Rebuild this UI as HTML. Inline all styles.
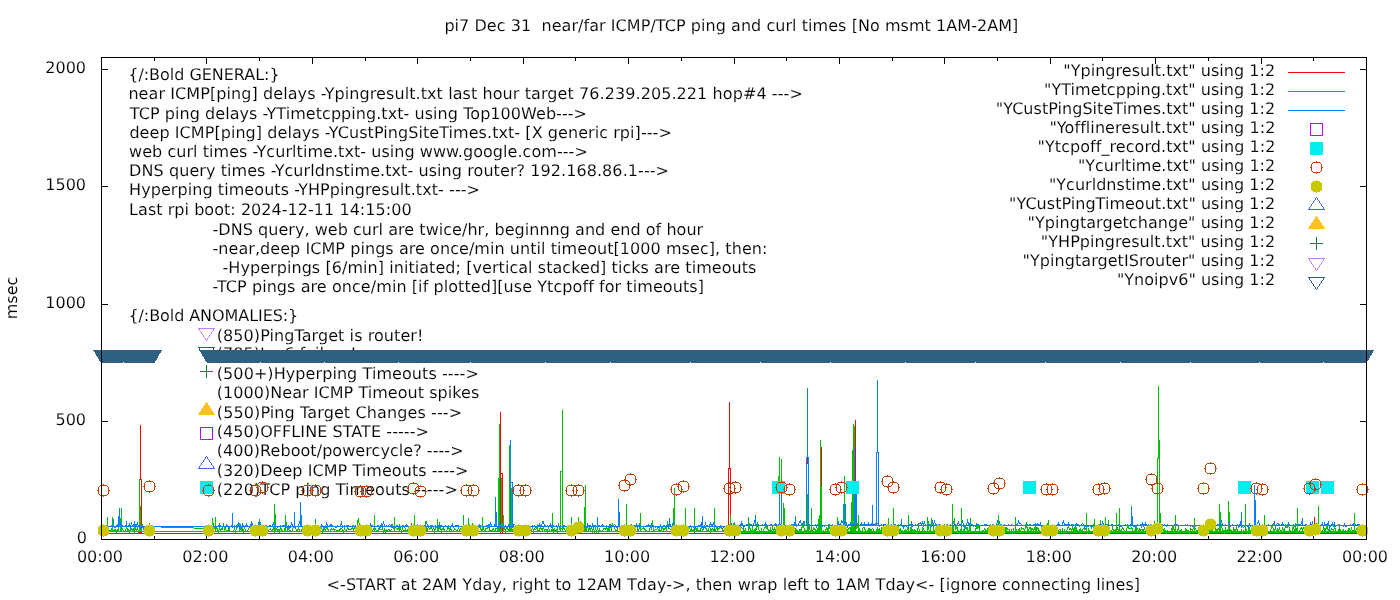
<!DOCTYPE html>
<html lang="en"><head><meta charset="utf-8"><title>pi7 Dec 31 near/far ICMP/TCP ping and curl times</title>
<style>html,body{margin:0;padding:0;background:#fff}body{width:1400px;height:600px;overflow:hidden}svg{display:block}text{font-family:"DejaVu Sans","Liberation Sans",sans-serif;font-size:16px;fill:#000;stroke:#fff;stroke-width:.12px;paint-order:fill stroke;text-rendering:geometricPrecision;white-space:pre}.c{shape-rendering:crispEdges}</style></head><body>
<svg width="1400" height="600" viewBox="0 0 1400 600">
<rect width="1400" height="600" fill="#fff"/>
<g opacity="0.999">
<text x="128.25" y="80" style="letter-spacing:-0.0355px" xml:space="preserve">{/:Bold GENERAL:}</text>
<text x="128.40" y="99.3" style="letter-spacing:0.0837px" xml:space="preserve">near ICMP[ping] delays -Ypingresult.txt last hour target 76.239.205.221 hop#4 ---&gt;</text>
<text x="129.80" y="119" style="letter-spacing:0.0565px" xml:space="preserve">TCP ping delays -YTimetcpping.txt- using Top100Web---&gt;</text>
<text x="129.40" y="138" style="letter-spacing:0.0626px" xml:space="preserve">deep ICMP[ping] delays -YCustPingSiteTimes.txt- [X generic rpi]---&gt;</text>
<text x="129.00" y="157.3" style="letter-spacing:0.0547px" xml:space="preserve">web curl times -Ycurltime.txt- using www.google.com---&gt;</text>
<text x="129.10" y="176.4" style="letter-spacing:0.0757px" xml:space="preserve">DNS query times -Ycurldnstime.txt- using router? 192.168.86.1---&gt;</text>
<text x="129.10" y="195" style="letter-spacing:0.0688px" xml:space="preserve">Hyperping timeouts -YHPpingresult.txt- ---&gt;</text>
<text x="129.10" y="215" style="letter-spacing:0.0420px" xml:space="preserve">Last rpi boot: 2024-12-11 14:15:00</text>
<text x="212.50" y="234.8" style="letter-spacing:0.0392px" xml:space="preserve">-DNS query, web curl are twice/hr, beginnng and end of hour</text>
<text x="212.50" y="253.8" style="letter-spacing:0.0608px" xml:space="preserve">-near,deep ICMP pings are once/min until timeout[1000 msec], then:</text>
<text x="222.50" y="272.8" style="letter-spacing:0.0608px" xml:space="preserve">-Hyperpings [6/min] initiated; [vertical stacked] ticks are timeouts</text>
<text x="212.50" y="291.8" style="letter-spacing:0.0729px" xml:space="preserve">-TCP pings are once/min [if plotted][use Ytcpoff for timeouts]</text>
<text x="128.40" y="321" style="letter-spacing:-0.0701px" xml:space="preserve">{/:Bold ANOMALIES:}</text>
<text x="216.80" y="340.6" style="letter-spacing:0.0733px" xml:space="preserve">(850)PingTarget is router!</text>
<text x="216.80" y="358.9" style="letter-spacing:0.0134px" xml:space="preserve">(785)Ipv6 failure!</text>
<text x="216.80" y="379" style="letter-spacing:0.0770px" xml:space="preserve">(500+)Hyperping Timeouts ----&gt;</text>
<text x="216.80" y="397.5" style="letter-spacing:0.0436px" xml:space="preserve">(1000)Near ICMP Timeout spikes</text>
<text x="216.80" y="417.6" style="letter-spacing:0.1131px" xml:space="preserve">(550)Ping Target Changes ---&gt;</text>
<text x="216.80" y="436.5" style="letter-spacing:0.0689px" xml:space="preserve">(450)OFFLINE STATE -----&gt;</text>
<text x="216.80" y="455.5" style="letter-spacing:0.0575px" xml:space="preserve">(400)Reboot/powercycle? ----&gt;</text>
<text x="216.80" y="475.5" style="letter-spacing:0.0615px" xml:space="preserve">(320)Deep ICMP Timeouts ----&gt;</text>
<text x="216.80" y="494.5" style="letter-spacing:0.0786px" xml:space="preserve">(220)TCP ping Timeouts -----&gt;</text>
<polygon class="c" points="206.5,340.5 198.5,328.5 214.5,328.5" fill="none" stroke="#c080ff" stroke-width="1"/>
<polygon class="c" points="206.5,359.5 198.5,347.5 214.5,347.5" fill="none" stroke="#306080" stroke-width="1"/>
<path class="c" d="M200 371h13v1h-13zM206 365h1v13h-1z" fill="#008040"/>
<polygon class="c" points="206.5,402.5 198.5,414.5 214.5,414.5" fill="#ffc020" stroke="#ffc020" stroke-width="1"/>
<rect class="c" x="200.5" y="427.5" width="12" height="12" fill="none" stroke="#c000ff" stroke-width="1"/>
<polygon class="c" points="206.5,456.5 198.5,468.5 214.5,468.5" fill="none" stroke="#4169e1" stroke-width="1"/>
<rect class="c" x="200" y="481" width="13" height="13" fill="#00eeee"/>
<rect class="c" x="101" y="533" width="1" height="7" fill="#000"/>
<rect class="c" x="101" y="57" width="1" height="7" fill="#000"/>
<rect class="c" x="154" y="536" width="1" height="4" fill="#000"/>
<rect class="c" x="154" y="57" width="1" height="4" fill="#000"/>
<rect class="c" x="206" y="533" width="1" height="7" fill="#000"/>
<rect class="c" x="206" y="57" width="1" height="7" fill="#000"/>
<rect class="c" x="259" y="536" width="1" height="4" fill="#000"/>
<rect class="c" x="259" y="57" width="1" height="4" fill="#000"/>
<rect class="c" x="312" y="533" width="1" height="7" fill="#000"/>
<rect class="c" x="312" y="57" width="1" height="7" fill="#000"/>
<rect class="c" x="365" y="536" width="1" height="4" fill="#000"/>
<rect class="c" x="365" y="57" width="1" height="4" fill="#000"/>
<rect class="c" x="417" y="533" width="1" height="7" fill="#000"/>
<rect class="c" x="417" y="57" width="1" height="7" fill="#000"/>
<rect class="c" x="470" y="536" width="1" height="4" fill="#000"/>
<rect class="c" x="470" y="57" width="1" height="4" fill="#000"/>
<rect class="c" x="523" y="533" width="1" height="7" fill="#000"/>
<rect class="c" x="523" y="57" width="1" height="7" fill="#000"/>
<rect class="c" x="575" y="536" width="1" height="4" fill="#000"/>
<rect class="c" x="575" y="57" width="1" height="4" fill="#000"/>
<rect class="c" x="628" y="533" width="1" height="7" fill="#000"/>
<rect class="c" x="628" y="57" width="1" height="7" fill="#000"/>
<rect class="c" x="681" y="536" width="1" height="4" fill="#000"/>
<rect class="c" x="681" y="57" width="1" height="4" fill="#000"/>
<rect class="c" x="734" y="533" width="1" height="7" fill="#000"/>
<rect class="c" x="734" y="57" width="1" height="7" fill="#000"/>
<rect class="c" x="786" y="536" width="1" height="4" fill="#000"/>
<rect class="c" x="786" y="57" width="1" height="4" fill="#000"/>
<rect class="c" x="839" y="533" width="1" height="7" fill="#000"/>
<rect class="c" x="839" y="57" width="1" height="7" fill="#000"/>
<rect class="c" x="892" y="536" width="1" height="4" fill="#000"/>
<rect class="c" x="892" y="57" width="1" height="4" fill="#000"/>
<rect class="c" x="944" y="533" width="1" height="7" fill="#000"/>
<rect class="c" x="944" y="57" width="1" height="7" fill="#000"/>
<rect class="c" x="997" y="536" width="1" height="4" fill="#000"/>
<rect class="c" x="997" y="57" width="1" height="4" fill="#000"/>
<rect class="c" x="1050" y="533" width="1" height="7" fill="#000"/>
<rect class="c" x="1050" y="57" width="1" height="7" fill="#000"/>
<rect class="c" x="1102" y="536" width="1" height="4" fill="#000"/>
<rect class="c" x="1102" y="57" width="1" height="4" fill="#000"/>
<rect class="c" x="1155" y="533" width="1" height="7" fill="#000"/>
<rect class="c" x="1155" y="57" width="1" height="7" fill="#000"/>
<rect class="c" x="1208" y="536" width="1" height="4" fill="#000"/>
<rect class="c" x="1208" y="57" width="1" height="4" fill="#000"/>
<rect class="c" x="1261" y="533" width="1" height="7" fill="#000"/>
<rect class="c" x="1261" y="57" width="1" height="7" fill="#000"/>
<rect class="c" x="1313" y="536" width="1" height="4" fill="#000"/>
<rect class="c" x="1313" y="57" width="1" height="4" fill="#000"/>
<rect class="c" x="1366" y="533" width="1" height="7" fill="#000"/>
<rect class="c" x="1366" y="57" width="1" height="7" fill="#000"/>
<rect class="c" x="101" y="539" width="7" height="1" fill="#000"/>
<rect class="c" x="1360" y="539" width="7" height="1" fill="#000"/>
<rect class="c" x="101" y="421" width="7" height="1" fill="#000"/>
<rect class="c" x="1360" y="421" width="7" height="1" fill="#000"/>
<rect class="c" x="101" y="304" width="7" height="1" fill="#000"/>
<rect class="c" x="1360" y="304" width="7" height="1" fill="#000"/>
<rect class="c" x="101" y="186" width="7" height="1" fill="#000"/>
<rect class="c" x="1360" y="186" width="7" height="1" fill="#000"/>
<rect class="c" x="101" y="69" width="7" height="1" fill="#000"/>
<rect class="c" x="1360" y="69" width="7" height="1" fill="#000"/>
<path class="c" d="M105.5 533.5 106.5 533.5 107.5 533.5 108.5 533.5 109.5 533.5 110.5 533.5 111.5 533.5 112.5 533.5 113.5 533.5 114.5 533.5 115.5 533.5 116.5 533.5 117.5 533.5 118.5 533.5 119.5 533.5 120.5 533.5 121.5 533.5 122.5 533.5 123.5 533.5 124.5 533.5 125.5 533.5 126.5 533.5 127.5 533.5 128.5 533.5 129.5 533.5 130.5 533.5 131.5 533.5 132.5 533.5 133.5 533.5 134.5 533.5 135.5 533.5 136.5 533.5 137.5 533.5 138.5 533.5 139.5 533.5 140.5 533.5 141.5 533.5 142.5 533.5 143.5 533.5 144.5 533.5 145.5 533.5 146.5 533.5 147.5 533.5 148.5 533.5 149.5 533.5 150.5 533.5 151.5 533.5 152.5 533.5 153.5 533.5 154.5 533.5 M207.5 533.5 208.5 533.5 209.5 533.5 210.5 533.5 211.5 533.5 212.5 533.5 213.5 533.5 214.5 533.5 215.5 533.5 216.5 533.5 217.5 533.5 218.5 533.5 219.5 533.5 220.5 533.5 221.5 533.5 222.5 533.5 223.5 533.5 224.5 533.5 225.5 533.5 226.5 533.5 227.5 533.5 228.5 533.5 229.5 533.5 230.5 533.5 231.5 533.5 232.5 533.5 233.5 533.5 234.5 533.5 235.5 533.5 236.5 533.5 237.5 533.5 238.5 533.5 239.5 533.5 240.5 533.5 241.5 533.5 242.5 533.5 243.5 533.5 244.5 533.5 245.5 533.5 246.5 533.5 247.5 533.5 248.5 533.5 249.5 533.5 250.5 533.5 251.5 533.5 252.5 533.5 253.5 533.5 254.5 533.5 255.5 533.5 256.5 533.5 257.5 533.5 258.5 533.5 259.5 533.5 260.5 533.5 261.5 533.5 262.5 533.5 263.5 533.5 264.5 533.5 265.5 533.5 266.5 533.5 267.5 533.5 268.5 533.5 269.5 533.5 270.5 533.5 271.5 533.5 272.5 533.5 273.5 533.5 274.5 533.5 275.5 533.5 276.5 533.5 277.5 533.5 278.5 533.5 279.5 533.5 280.5 533.5 281.5 533.5 282.5 533.5 283.5 533.5 284.5 533.5 285.5 533.5 286.5 533.5 287.5 533.5 288.5 533.5 289.5 533.5 290.5 533.5 291.5 533.5 292.5 533.5 293.5 533.5 294.5 533.5 295.5 533.5 296.5 533.5 297.5 533.5 298.5 533.5 299.5 533.5 300.5 533.5 301.5 533.5 302.5 533.5 303.5 533.5 304.5 533.5 305.5 533.5 306.5 533.5 307.5 533.5 308.5 533.5 309.5 533.5 310.5 533.5 311.5 533.5 312.5 533.5 313.5 533.5 314.5 533.5 315.5 533.5 316.5 533.5 317.5 533.5 318.5 533.5 319.5 533.5 320.5 533.5 321.5 533.5 322.5 533.5 323.5 533.5 324.5 533.5 325.5 533.5 326.5 533.5 327.5 533.5 328.5 533.5 329.5 533.5 330.5 533.5 331.5 533.5 332.5 533.5 333.5 533.5 334.5 533.5 335.5 533.5 336.5 533.5 337.5 533.5 338.5 533.5 339.5 533.5 340.5 533.5 341.5 533.5 342.5 533.5 343.5 533.5 344.5 533.5 345.5 533.5 346.5 533.5 347.5 533.5 348.5 533.5 349.5 533.5 350.5 533.5 351.5 533.5 352.5 533.5 353.5 533.5 354.5 533.5 355.5 533.5 356.5 533.5 357.5 533.5 358.5 533.5 359.5 533.5 360.5 533.5 361.5 533.5 362.5 533.5 363.5 533.5 364.5 533.5 365.5 533.5 366.5 533.5 367.5 533.5 368.5 533.5 369.5 533.5 370.5 533.5 371.5 533.5 372.5 533.5 373.5 533.5 374.5 533.5 375.5 533.5 376.5 533.5 377.5 533.5 378.5 533.5 379.5 533.5 380.5 533.5 381.5 533.5 382.5 533.5 383.5 533.5 384.5 533.5 385.5 533.5 386.5 533.5 387.5 533.5 388.5 533.5 389.5 533.5 390.5 533.5 391.5 533.5 392.5 533.5 393.5 533.5 394.5 533.5 395.5 533.5 396.5 533.5 397.5 533.5 398.5 533.5 399.5 533.5 400.5 533.5 401.5 533.5 402.5 533.5 403.5 533.5 404.5 533.5 405.5 533.5 406.5 533.5 407.5 533.5 408.5 533.5 409.5 533.5 410.5 533.5 411.5 533.5 412.5 533.5 413.5 533.5 414.5 533.5 415.5 533.5 416.5 533.5 417.5 533.5 418.5 533.5 419.5 533.5 420.5 533.5 421.5 533.5 422.5 533.5 423.5 533.5 424.5 533.5 425.5 533.5 426.5 533.5 427.5 533.5 428.5 533.5 429.5 533.5 430.5 533.5 431.5 533.5 432.5 533.5 433.5 533.5 434.5 533.5 435.5 533.5 436.5 533.5 437.5 533.5 438.5 533.5 439.5 533.5 440.5 533.5 441.5 533.5 442.5 533.5 443.5 533.5 444.5 533.5 445.5 533.5 446.5 533.5 447.5 533.5 448.5 533.5 449.5 533.5 450.5 533.5 451.5 533.5 452.5 533.5 453.5 533.5 454.5 533.5 455.5 533.5 456.5 533.5 457.5 533.5 458.5 533.5 459.5 533.5 460.5 533.5 461.5 533.5 462.5 533.5 463.5 533.5 464.5 533.5 465.5 533.5 466.5 533.5 467.5 533.5 468.5 533.5 469.5 533.5 470.5 533.5 471.5 533.5 472.5 533.5 473.5 533.5 474.5 533.5 475.5 533.5 476.5 533.5 477.5 533.5 478.5 533.5 479.5 533.5 480.5 533.5 481.5 533.5 482.5 533.5 483.5 533.5 484.5 533.5 485.5 533.5 486.5 533.5 487.5 533.5 488.5 533.5 489.5 533.5 490.5 533.5 491.5 533.5 492.5 533.5 493.5 533.5 494.5 533.5 495.5 533.5 496.5 533.5 497.5 533.5 498.5 533.5 499.5 533.5 500.5 533.5 501.5 533.5 502.5 533.5 503.5 533.5 504.5 533.5 505.5 533.5 506.5 533.5 507.5 533.5 508.5 533.5 509.5 533.5 510.5 533.5 511.5 533.5 512.5 533.5 513.5 533.5 514.5 533.5 515.5 533.5 516.5 533.5 517.5 533.5 518.5 533.5 519.5 533.5 520.5 533.5 521.5 533.5 522.5 533.5 523.5 533.5 524.5 533.5 525.5 533.5 526.5 533.5 527.5 533.5 528.5 533.5 529.5 533.5 530.5 533.5 531.5 533.5 532.5 533.5 533.5 533.5 534.5 533.5 535.5 533.5 536.5 533.5 537.5 533.5 538.5 533.5 539.5 533.5 540.5 533.5 541.5 533.5 542.5 533.5 543.5 533.5 544.5 533.5 545.5 533.5 546.5 533.5 547.5 533.5 548.5 533.5 549.5 533.5 550.5 533.5 551.5 533.5 552.5 533.5 553.5 533.5 554.5 533.5 555.5 533.5 556.5 533.5 557.5 533.5 558.5 533.5 559.5 533.5 560.5 533.5 561.5 533.5 562.5 533.5 563.5 533.5 564.5 533.5 565.5 533.5 566.5 533.5 567.5 533.5 568.5 533.5 569.5 533.5 570.5 533.5 571.5 533.5 572.5 533.5 573.5 533.5 574.5 533.5 575.5 533.5 576.5 533.5 577.5 533.5 578.5 533.5 579.5 533.5 580.5 533.5 581.5 533.5 582.5 533.5 583.5 533.5 584.5 533.5 585.5 533.5 586.5 533.5 587.5 533.5 588.5 533.5 589.5 533.5 590.5 533.5 591.5 533.5 592.5 533.5 593.5 533.5 594.5 533.5 595.5 533.5 596.5 533.5 597.5 533.5 598.5 533.5 599.5 533.5 600.5 533.5 601.5 533.5 602.5 533.5 603.5 533.5 604.5 533.5 605.5 533.5 606.5 533.5 607.5 533.5 608.5 533.5 609.5 533.5 610.5 533.5 611.5 533.5 612.5 533.5 613.5 533.5 614.5 533.5 615.5 533.5 616.5 533.5 617.5 533.5 618.5 533.5 619.5 533.5 620.5 533.5 621.5 533.5 622.5 533.5 623.5 533.5 624.5 533.5 625.5 533.5 626.5 533.5 627.5 533.5 628.5 533.5 629.5 533.5 630.5 533.5 631.5 533.5 632.5 533.5 633.5 533.5 634.5 533.5 635.5 533.5 636.5 533.5 637.5 533.5 638.5 533.5 639.5 533.5 640.5 533.5 641.5 533.5 642.5 533.5 643.5 533.5 644.5 533.5 645.5 533.5 646.5 533.5 647.5 533.5 648.5 533.5 649.5 533.5 650.5 533.5 651.5 533.5 652.5 533.5 653.5 533.5 654.5 533.5 655.5 533.5 656.5 533.5 657.5 533.5 658.5 533.5 659.5 533.5 660.5 533.5 661.5 533.5 662.5 533.5 663.5 533.5 664.5 533.5 665.5 533.5 666.5 533.5 667.5 533.5 668.5 533.5 669.5 533.5 670.5 533.5 671.5 533.5 672.5 533.5 673.5 533.5 674.5 533.5 675.5 533.5 676.5 533.5 677.5 533.5 678.5 533.5 679.5 533.5 680.5 533.5 681.5 533.5 682.5 533.5 683.5 533.5 684.5 533.5 685.5 533.5 686.5 533.5 687.5 533.5 688.5 533.5 689.5 533.5 690.5 533.5 691.5 533.5 692.5 533.5 693.5 533.5 694.5 533.5 695.5 533.5 696.5 533.5 697.5 533.5 698.5 533.5 699.5 533.5 700.5 533.5 701.5 533.5 702.5 533.5 703.5 533.5 704.5 533.5 705.5 533.5 706.5 533.5 707.5 533.5 708.5 533.5 709.5 533.5 710.5 533.5 711.5 533.5 712.5 533.5 713.5 533.5 714.5 533.5 715.5 533.5 716.5 533.5 717.5 533.5 718.5 533.5 719.5 533.5 720.5 533.5 721.5 533.5 722.5 533.5 723.5 533.5 724.5 533.5 725.5 533.5 726.5 533.5 727.5 533.5 728.5 533.5 729.5 533.5 730.5 533.5 731.5 533.5 732.5 533.5 733.5 533.5 734.5 533.5 735.5 533.5 736.5 533.5 737.5 533.5 738.5 533.5 739.5 533.5 740.5 533.5 741.5 533.5 742.5 533.5 743.5 533.5 744.5 533.5 745.5 533.5 746.5 533.5 747.5 533.5 748.5 533.5 749.5 533.5 750.5 533.5 751.5 533.5 752.5 533.5 753.5 533.5 754.5 533.5 755.5 533.5 756.5 533.5 757.5 533.5 758.5 533.5 759.5 533.5 760.5 533.5 761.5 533.5 762.5 533.5 763.5 533.5 764.5 533.5 765.5 533.5 766.5 533.5 767.5 533.5 768.5 533.5 769.5 533.5 770.5 533.5 771.5 533.5 772.5 533.5 773.5 533.5 774.5 533.5 775.5 533.5 776.5 533.5 777.5 533.5 778.5 533.5 779.5 533.5 780.5 533.5 781.5 533.5 782.5 533.5 783.5 533.5 784.5 533.5 785.5 533.5 786.5 533.5 787.5 533.5 788.5 533.5 789.5 533.5 790.5 533.5 791.5 533.5 792.5 533.5 793.5 533.5 794.5 533.5 795.5 533.5 796.5 533.5 797.5 533.5 798.5 533.5 799.5 533.5 800.5 533.5 801.5 533.5 802.5 533.5 803.5 533.5 804.5 533.5 805.5 533.5 806.5 533.5 807.5 533.5 808.5 533.5 809.5 533.5 810.5 533.5 811.5 533.5 812.5 533.5 813.5 533.5 814.5 533.5 815.5 533.5 816.5 533.5 817.5 533.5 818.5 533.5 819.5 533.5 820.5 533.5 821.5 533.5 822.5 533.5 823.5 533.5 824.5 533.5 825.5 533.5 826.5 533.5 827.5 533.5 828.5 533.5 829.5 533.5 830.5 533.5 831.5 533.5 832.5 533.5 833.5 533.5 834.5 533.5 835.5 533.5 836.5 533.5 837.5 533.5 838.5 533.5 839.5 533.5 840.5 533.5 841.5 533.5 842.5 533.5 843.5 533.5 844.5 533.5 845.5 533.5 846.5 533.5 847.5 533.5 848.5 533.5 849.5 533.5 850.5 533.5 851.5 533.5 852.5 533.5 853.5 533.5 854.5 533.5 855.5 533.5 856.5 533.5 857.5 533.5 858.5 533.5 859.5 533.5 860.5 533.5 861.5 533.5 862.5 533.5 863.5 533.5 864.5 533.5 865.5 533.5 866.5 533.5 867.5 533.5 868.5 533.5 869.5 533.5 870.5 533.5 871.5 533.5 872.5 533.5 873.5 533.5 874.5 533.5 875.5 533.5 876.5 533.5 877.5 533.5 878.5 533.5 879.5 533.5 880.5 533.5 881.5 533.5 882.5 533.5 883.5 533.5 884.5 533.5 885.5 533.5 886.5 533.5 887.5 533.5 888.5 533.5 889.5 533.5 890.5 533.5 891.5 533.5 892.5 533.5 893.5 533.5 894.5 533.5 895.5 533.5 896.5 533.5 897.5 533.5 898.5 533.5 899.5 533.5 900.5 533.5 901.5 533.5 902.5 533.5 903.5 533.5 904.5 533.5 905.5 533.5 906.5 533.5 907.5 533.5 908.5 533.5 909.5 533.5 910.5 533.5 911.5 533.5 912.5 533.5 913.5 533.5 914.5 533.5 915.5 533.5 916.5 533.5 917.5 533.5 918.5 533.5 919.5 533.5 920.5 533.5 921.5 533.5 922.5 533.5 923.5 533.5 924.5 533.5 925.5 533.5 926.5 533.5 927.5 533.5 928.5 533.5 929.5 533.5 930.5 533.5 931.5 533.5 932.5 533.5 933.5 533.5 934.5 533.5 935.5 533.5 936.5 533.5 937.5 533.5 938.5 533.5 939.5 533.5 940.5 533.5 941.5 533.5 942.5 533.5 943.5 533.5 944.5 533.5 945.5 533.5 946.5 533.5 947.5 533.5 948.5 533.5 949.5 533.5 950.5 533.5 951.5 533.5 952.5 533.5 953.5 533.5 954.5 533.5 955.5 533.5 956.5 533.5 957.5 533.5 958.5 533.5 959.5 533.5 960.5 533.5 961.5 533.5 962.5 533.5 963.5 533.5 964.5 533.5 965.5 533.5 966.5 533.5 967.5 533.5 968.5 533.5 969.5 533.5 970.5 533.5 971.5 533.5 972.5 533.5 973.5 533.5 974.5 533.5 975.5 533.5 976.5 533.5 977.5 533.5 978.5 533.5 979.5 533.5 980.5 533.5 981.5 533.5 982.5 533.5 983.5 533.5 984.5 533.5 985.5 533.5 986.5 533.5 987.5 533.5 988.5 533.5 989.5 533.5 990.5 533.5 991.5 533.5 992.5 533.5 993.5 533.5 994.5 533.5 995.5 533.5 996.5 533.5 997.5 533.5 998.5 533.5 999.5 533.5 1000.5 533.5 1001.5 533.5 1002.5 533.5 1003.5 533.5 1004.5 533.5 1005.5 533.5 1006.5 533.5 1007.5 533.5 1008.5 533.5 1009.5 533.5 1010.5 533.5 1011.5 533.5 1012.5 533.5 1013.5 533.5 1014.5 533.5 1015.5 533.5 1016.5 533.5 1017.5 533.5 1018.5 533.5 1019.5 533.5 1020.5 533.5 1021.5 533.5 1022.5 533.5 1023.5 533.5 1024.5 533.5 1025.5 533.5 1026.5 533.5 1027.5 533.5 1028.5 533.5 1029.5 533.5 1030.5 533.5 1031.5 533.5 1032.5 533.5 1033.5 533.5 1034.5 533.5 1035.5 533.5 1036.5 533.5 1037.5 533.5 1038.5 533.5 1039.5 533.5 1040.5 533.5 1041.5 533.5 1042.5 533.5 1043.5 533.5 1044.5 533.5 1045.5 533.5 1046.5 533.5 1047.5 533.5 1048.5 533.5 1049.5 533.5 1050.5 533.5 1051.5 533.5 1052.5 533.5 1053.5 533.5 1054.5 533.5 1055.5 533.5 1056.5 533.5 1057.5 533.5 1058.5 533.5 1059.5 533.5 1060.5 533.5 1061.5 533.5 1062.5 533.5 1063.5 533.5 1064.5 533.5 1065.5 533.5 1066.5 533.5 1067.5 533.5 1068.5 533.5 1069.5 533.5 1070.5 533.5 1071.5 533.5 1072.5 533.5 1073.5 533.5 1074.5 533.5 1075.5 533.5 1076.5 533.5 1077.5 533.5 1078.5 533.5 1079.5 533.5 1080.5 533.5 1081.5 533.5 1082.5 533.5 1083.5 533.5 1084.5 533.5 1085.5 533.5 1086.5 533.5 1087.5 533.5 1088.5 533.5 1089.5 533.5 1090.5 533.5 1091.5 533.5 1092.5 533.5 1093.5 533.5 1094.5 533.5 1095.5 533.5 1096.5 533.5 1097.5 533.5 1098.5 533.5 1099.5 533.5 1100.5 533.5 1101.5 533.5 1102.5 533.5 1103.5 533.5 1104.5 533.5 1105.5 533.5 1106.5 533.5 1107.5 533.5 1108.5 533.5 1109.5 533.5 1110.5 533.5 1111.5 533.5 1112.5 533.5 1113.5 533.5 1114.5 533.5 1115.5 533.5 1116.5 533.5 1117.5 533.5 1118.5 533.5 1119.5 533.5 1120.5 533.5 1121.5 533.5 1122.5 533.5 1123.5 533.5 1124.5 533.5 1125.5 533.5 1126.5 533.5 1127.5 533.5 1128.5 533.5 1129.5 533.5 1130.5 533.5 1131.5 533.5 1132.5 533.5 1133.5 533.5 1134.5 533.5 1135.5 533.5 1136.5 533.5 1137.5 533.5 1138.5 533.5 1139.5 533.5 1140.5 533.5 1141.5 533.5 1142.5 533.5 1143.5 533.5 1144.5 533.5 1145.5 533.5 1146.5 533.5 1147.5 533.5 1148.5 533.5 1149.5 533.5 1150.5 533.5 1151.5 533.5 1152.5 533.5 1153.5 533.5 1154.5 533.5 1155.5 533.5 1156.5 533.5 1157.5 533.5 1158.5 533.5 1159.5 533.5 1160.5 533.5 1161.5 533.5 1162.5 533.5 1163.5 533.5 1164.5 533.5 1165.5 533.5 1166.5 533.5 1167.5 533.5 1168.5 533.5 1169.5 533.5 1170.5 533.5 1171.5 533.5 1172.5 533.5 1173.5 533.5 1174.5 533.5 1175.5 533.5 1176.5 533.5 1177.5 533.5 1178.5 533.5 1179.5 533.5 1180.5 533.5 1181.5 533.5 1182.5 533.5 1183.5 533.5 1184.5 533.5 1185.5 533.5 1186.5 533.5 1187.5 533.5 1188.5 533.5 1189.5 533.5 1190.5 533.5 1191.5 533.5 1192.5 533.5 1193.5 533.5 1194.5 533.5 1195.5 533.5 1196.5 533.5 1197.5 533.5 1198.5 533.5 1199.5 533.5 1200.5 533.5 1201.5 533.5 1202.5 533.5 1203.5 533.5 1204.5 533.5 1205.5 533.5 1206.5 533.5 1207.5 533.5 1208.5 533.5 1209.5 533.5 1210.5 533.5 1211.5 533.5 1212.5 533.5 1213.5 533.5 1214.5 533.5 1215.5 533.5 1216.5 533.5 1217.5 533.5 1218.5 533.5 1219.5 533.5 1220.5 533.5 1221.5 533.5 1222.5 533.5 1223.5 533.5 1224.5 533.5 1225.5 533.5 1226.5 533.5 1227.5 533.5 1228.5 533.5 1229.5 533.5 1230.5 533.5 1231.5 533.5 1232.5 533.5 1233.5 533.5 1234.5 533.5 1235.5 533.5 1236.5 533.5 1237.5 533.5 1238.5 533.5 1239.5 533.5 1240.5 533.5 1241.5 533.5 1242.5 533.5 1243.5 533.5 1244.5 533.5 1245.5 533.5 1246.5 533.5 1247.5 533.5 1248.5 533.5 1249.5 533.5 1250.5 533.5 1251.5 533.5 1252.5 533.5 1253.5 533.5 1254.5 533.5 1255.5 533.5 1256.5 533.5 1257.5 533.5 1258.5 533.5 1259.5 533.5 1260.5 533.5 1261.5 533.5 1262.5 533.5 1263.5 533.5 1264.5 533.5 1265.5 533.5 1266.5 533.5 1267.5 533.5 1268.5 533.5 1269.5 533.5 1270.5 533.5 1271.5 533.5 1272.5 533.5 1273.5 533.5 1274.5 533.5 1275.5 533.5 1276.5 533.5 1277.5 533.5 1278.5 533.5 1279.5 533.5 1280.5 533.5 1281.5 533.5 1282.5 533.5 1283.5 533.5 1284.5 533.5 1285.5 533.5 1286.5 533.5 1287.5 533.5 1288.5 533.5 1289.5 533.5 1290.5 533.5 1291.5 533.5 1292.5 533.5 1293.5 533.5 1294.5 533.5 1295.5 533.5 1296.5 533.5 1297.5 533.5 1298.5 533.5 1299.5 533.5 1300.5 533.5 1301.5 533.5 1302.5 533.5 1303.5 533.5 1304.5 533.5 1305.5 533.5 1306.5 533.5 1307.5 533.5 1308.5 533.5 1309.5 533.5 1310.5 533.5 1311.5 533.5 1312.5 533.5 1313.5 533.5 1314.5 533.5 1315.5 533.5 1316.5 533.5 1317.5 533.5 1318.5 533.5 1319.5 533.5 1320.5 533.5 1321.5 533.5 1322.5 533.5 1323.5 533.5 1324.5 533.5 1325.5 533.5 1326.5 533.5 1327.5 533.5 1328.5 533.5 1329.5 533.5 1330.5 533.5 1331.5 533.5 1332.5 533.5 1333.5 533.5 1334.5 533.5 1335.5 533.5 1336.5 533.5 1337.5 533.5 1338.5 533.5 1339.5 533.5 1340.5 533.5 1341.5 533.5 1342.5 533.5 1343.5 533.5 1344.5 533.5 1345.5 533.5 1346.5 533.5 1347.5 533.5 1348.5 533.5 1349.5 533.5 1350.5 533.5 1351.5 533.5 1352.5 533.5 1353.5 533.5 1354.5 533.5 1355.5 533.5 1356.5 533.5 1357.5 533.5 1358.5 533.5 1359.5 533.5 1360.5 533.5 1361.5 533.5 1362.5 533.5 L1362.5 533.5 L700.5 533.5 L101.5 533.5" fill="none" stroke="#ff0000" stroke-width="1" stroke-linejoin="miter"/>
<path class="c" d="M140 425h1v55h-1zM141 479h1v55h-1zM140 506h1v28h-1zM139 506h1v28h-1zM500 412h1v122h-1zM502 473h1v61h-1zM501 473h1v1h-1zM729 402h1v67h-1zM728 468h1v66h-1zM730 468h1v66h-1zM821 447h1v87h-1zM855 420h1v114h-1zM807 457h1v7h-1zM853 494h1v40h-1zM1314 517h1v17h-1z" fill="#ff0000"/>
<path class="c" d="M105.5 530.5 106.5 531.5 107.5 527.5 108.5 530.5 109.5 530.5 110.5 531.5 111.5 529.5 112.5 531.5 113.5 531.5 114.5 529.5 115.5 529.5 116.5 531.5 117.5 529.5 118.5 530.5 119.5 523.5 120.5 529.5 121.5 527.5 122.5 528.5 123.5 531.5 124.5 531.5 125.5 531.5 126.5 526.5 127.5 530.5 128.5 529.5 129.5 531.5 130.5 529.5 131.5 528.5 132.5 530.5 133.5 531.5 133.5 528.5 134.5 531.5 135.5 528.5 136.5 530.5 137.5 528.5 138.5 531.5 139.5 528.5 140.5 531.5 141.5 530.5 142.5 525.5 143.5 528.5 144.5 527.5 145.5 527.5 146.5 531.5 147.5 526.5 148.5 531.5 149.5 527.5 150.5 529.5 150.5 531.5 151.5 528.5 151.5 529.5 152.5 529.5 153.5 529.5 154.5 529.5 154.5 531.5 M207.5 531.5 208.5 529.5 208.5 531.5 209.5 530.5 210.5 531.5 210.5 527.5 211.5 531.5 212.5 518.5 213.5 527.5 214.5 527.5 215.5 530.5 215.5 528.5 216.5 527.5 217.5 529.5 218.5 531.5 219.5 528.5 220.5 530.5 221.5 528.5 222.5 529.5 223.5 523.5 224.5 530.5 225.5 528.5 226.5 531.5 227.5 531.5 228.5 529.5 229.5 526.5 229.5 530.5 230.5 531.5 231.5 531.5 232.5 531.5 233.5 531.5 234.5 528.5 235.5 531.5 236.5 528.5 237.5 526.5 238.5 526.5 239.5 523.5 239.5 531.5 240.5 527.5 241.5 531.5 242.5 527.5 242.5 529.5 243.5 531.5 244.5 526.5 245.5 531.5 245.5 530.5 246.5 531.5 247.5 531.5 248.5 528.5 249.5 527.5 250.5 526.5 251.5 525.5 252.5 528.5 252.5 530.5 253.5 531.5 254.5 529.5 255.5 531.5 256.5 528.5 257.5 531.5 258.5 531.5 259.5 526.5 260.5 530.5 261.5 530.5 262.5 529.5 263.5 528.5 264.5 528.5 265.5 527.5 266.5 531.5 267.5 529.5 268.5 530.5 269.5 529.5 270.5 528.5 270.5 528.5 271.5 531.5 272.5 530.5 273.5 528.5 274.5 531.5 275.5 527.5 276.5 528.5 277.5 530.5 278.5 529.5 279.5 531.5 280.5 527.5 281.5 529.5 282.5 531.5 283.5 531.5 284.5 530.5 285.5 525.5 286.5 523.5 287.5 531.5 288.5 528.5 289.5 531.5 290.5 530.5 291.5 531.5 292.5 530.5 293.5 526.5 294.5 527.5 295.5 526.5 296.5 531.5 297.5 530.5 298.5 527.5 299.5 531.5 300.5 531.5 301.5 531.5 302.5 527.5 303.5 531.5 304.5 529.5 305.5 531.5 306.5 531.5 307.5 529.5 308.5 527.5 308.5 530.5 309.5 530.5 310.5 531.5 310.5 531.5 311.5 531.5 312.5 531.5 313.5 529.5 314.5 530.5 315.5 519.5 316.5 531.5 317.5 526.5 318.5 531.5 319.5 531.5 320.5 529.5 321.5 525.5 322.5 531.5 323.5 529.5 324.5 528.5 325.5 530.5 326.5 527.5 327.5 526.5 327.5 529.5 328.5 529.5 328.5 530.5 329.5 531.5 330.5 530.5 331.5 528.5 332.5 529.5 333.5 528.5 334.5 530.5 335.5 529.5 336.5 530.5 337.5 530.5 338.5 530.5 339.5 530.5 340.5 528.5 341.5 528.5 342.5 529.5 343.5 531.5 344.5 528.5 345.5 531.5 346.5 531.5 347.5 526.5 348.5 529.5 349.5 529.5 350.5 529.5 351.5 529.5 352.5 526.5 353.5 530.5 354.5 527.5 355.5 530.5 356.5 529.5 357.5 522.5 358.5 518.5 359.5 526.5 360.5 529.5 361.5 525.5 362.5 531.5 363.5 528.5 364.5 529.5 364.5 527.5 365.5 528.5 366.5 531.5 367.5 526.5 367.5 531.5 368.5 527.5 369.5 531.5 370.5 529.5 371.5 531.5 372.5 530.5 373.5 529.5 374.5 527.5 375.5 529.5 376.5 530.5 377.5 531.5 378.5 529.5 379.5 526.5 379.5 529.5 380.5 529.5 380.5 529.5 381.5 529.5 382.5 528.5 383.5 531.5 384.5 529.5 385.5 531.5 386.5 529.5 387.5 530.5 388.5 529.5 389.5 529.5 389.5 531.5 390.5 531.5 391.5 528.5 392.5 524.5 393.5 528.5 394.5 528.5 395.5 527.5 396.5 528.5 397.5 529.5 398.5 527.5 399.5 531.5 399.5 524.5 400.5 528.5 401.5 531.5 402.5 528.5 403.5 531.5 404.5 530.5 404.5 531.5 405.5 529.5 406.5 531.5 407.5 531.5 408.5 527.5 409.5 531.5 410.5 529.5 411.5 531.5 412.5 529.5 413.5 527.5 414.5 527.5 414.5 530.5 415.5 531.5 416.5 528.5 417.5 530.5 418.5 530.5 419.5 531.5 419.5 530.5 420.5 528.5 421.5 530.5 422.5 528.5 423.5 527.5 423.5 527.5 424.5 528.5 425.5 521.5 426.5 530.5 426.5 531.5 427.5 529.5 428.5 526.5 429.5 529.5 430.5 528.5 431.5 526.5 432.5 531.5 432.5 531.5 433.5 526.5 434.5 531.5 435.5 528.5 436.5 526.5 437.5 527.5 438.5 529.5 439.5 522.5 439.5 528.5 440.5 527.5 441.5 531.5 442.5 528.5 443.5 527.5 444.5 531.5 445.5 531.5 446.5 531.5 447.5 528.5 448.5 526.5 449.5 530.5 449.5 530.5 450.5 528.5 451.5 530.5 452.5 531.5 453.5 531.5 454.5 528.5 455.5 529.5 456.5 530.5 456.5 530.5 457.5 531.5 458.5 527.5 459.5 530.5 460.5 528.5 461.5 529.5 461.5 526.5 462.5 527.5 463.5 531.5 464.5 529.5 465.5 531.5 466.5 527.5 467.5 531.5 468.5 518.5 469.5 528.5 470.5 530.5 471.5 530.5 472.5 523.5 473.5 526.5 474.5 530.5 475.5 531.5 476.5 531.5 476.5 531.5 477.5 528.5 478.5 528.5 479.5 527.5 480.5 527.5 481.5 531.5 482.5 531.5 483.5 528.5 484.5 531.5 485.5 530.5 485.5 528.5 486.5 528.5 487.5 528.5 488.5 525.5 489.5 530.5 490.5 530.5 490.5 531.5 491.5 531.5 492.5 529.5 493.5 528.5 494.5 531.5 495.5 531.5 495.5 528.5 496.5 528.5 497.5 529.5 498.5 531.5 499.5 531.5 500.5 531.5 501.5 526.5 502.5 523.5 503.5 531.5 504.5 528.5 505.5 531.5 506.5 527.5 507.5 527.5 508.5 531.5 509.5 527.5 510.5 531.5 511.5 531.5 512.5 529.5 513.5 529.5 514.5 531.5 515.5 531.5 516.5 529.5 517.5 531.5 518.5 527.5 519.5 530.5 519.5 531.5 520.5 531.5 521.5 531.5 522.5 526.5 523.5 531.5 524.5 530.5 525.5 524.5 525.5 531.5 526.5 530.5 526.5 531.5 527.5 531.5 527.5 529.5 528.5 529.5 529.5 529.5 529.5 531.5 530.5 531.5 531.5 531.5 532.5 526.5 533.5 531.5 534.5 528.5 535.5 529.5 536.5 528.5 537.5 524.5 537.5 530.5 538.5 531.5 539.5 529.5 540.5 527.5 541.5 529.5 542.5 530.5 543.5 526.5 544.5 531.5 544.5 529.5 545.5 529.5 546.5 529.5 547.5 531.5 548.5 526.5 549.5 531.5 550.5 531.5 551.5 531.5 552.5 527.5 553.5 531.5 554.5 528.5 554.5 530.5 555.5 530.5 556.5 529.5 557.5 531.5 558.5 523.5 559.5 528.5 559.5 529.5 560.5 530.5 560.5 527.5 561.5 528.5 561.5 528.5 562.5 529.5 563.5 527.5 564.5 528.5 565.5 531.5 566.5 530.5 567.5 530.5 568.5 530.5 569.5 526.5 570.5 527.5 571.5 528.5 572.5 529.5 573.5 529.5 574.5 531.5 575.5 529.5 576.5 528.5 577.5 530.5 578.5 529.5 578.5 517.5 579.5 526.5 580.5 521.5 581.5 527.5 582.5 527.5 583.5 531.5 584.5 531.5 584.5 528.5 585.5 527.5 586.5 531.5 586.5 531.5 587.5 523.5 588.5 531.5 589.5 527.5 590.5 530.5 591.5 526.5 592.5 531.5 593.5 528.5 594.5 531.5 595.5 528.5 596.5 531.5 597.5 528.5 598.5 531.5 599.5 529.5 600.5 531.5 600.5 530.5 601.5 531.5 602.5 530.5 603.5 529.5 603.5 528.5 604.5 528.5 605.5 529.5 606.5 526.5 607.5 530.5 608.5 531.5 608.5 528.5 609.5 530.5 609.5 524.5 610.5 524.5 611.5 530.5 612.5 524.5 613.5 526.5 614.5 526.5 615.5 531.5 616.5 530.5 617.5 529.5 617.5 531.5 618.5 522.5 619.5 530.5 620.5 529.5 621.5 528.5 622.5 531.5 622.5 531.5 623.5 531.5 624.5 531.5 625.5 530.5 626.5 526.5 627.5 531.5 628.5 530.5 629.5 531.5 630.5 528.5 631.5 529.5 631.5 530.5 632.5 530.5 633.5 530.5 634.5 530.5 635.5 531.5 635.5 527.5 636.5 523.5 637.5 530.5 638.5 531.5 639.5 527.5 640.5 529.5 641.5 529.5 642.5 528.5 643.5 527.5 644.5 529.5 645.5 529.5 646.5 531.5 647.5 531.5 648.5 531.5 649.5 531.5 650.5 525.5 651.5 529.5 652.5 520.5 653.5 530.5 654.5 530.5 655.5 529.5 656.5 529.5 657.5 528.5 658.5 529.5 659.5 531.5 660.5 531.5 661.5 529.5 662.5 527.5 663.5 529.5 663.5 530.5 664.5 529.5 665.5 527.5 666.5 529.5 667.5 521.5 668.5 527.5 669.5 528.5 670.5 529.5 671.5 528.5 671.5 530.5 672.5 531.5 672.5 526.5 673.5 529.5 674.5 525.5 674.5 527.5 675.5 531.5 676.5 531.5 677.5 527.5 678.5 527.5 679.5 529.5 679.5 529.5 680.5 530.5 681.5 529.5 682.5 527.5 683.5 527.5 684.5 527.5 685.5 526.5 685.5 526.5 686.5 531.5 686.5 527.5 687.5 531.5 687.5 531.5 688.5 530.5 689.5 526.5 690.5 531.5 691.5 527.5 691.5 530.5 692.5 530.5 693.5 529.5 694.5 531.5 695.5 528.5 696.5 530.5 697.5 526.5 697.5 529.5 698.5 531.5 699.5 531.5 700.5 529.5 701.5 526.5 702.5 531.5 703.5 526.5 704.5 526.5 705.5 527.5 706.5 529.5 707.5 531.5 708.5 531.5 709.5 524.5 710.5 531.5 711.5 529.5 712.5 528.5 713.5 530.5 713.5 531.5 714.5 531.5 715.5 531.5 716.5 526.5 717.5 527.5 717.5 531.5 718.5 528.5 719.5 528.5 720.5 526.5 721.5 527.5 722.5 529.5 723.5 531.5 724.5 531.5 725.5 531.5 726.5 531.5 727.5 531.5 728.5 531.5 729.5 530.5 730.5 527.5 731.5 531.5 732.5 528.5 733.5 531.5 733.5 523.5 734.5 529.5 735.5 529.5 736.5 527.5 737.5 527.5 738.5 531.5 739.5 529.5 740.5 528.5 740.5 527.5 741.5 527.5 742.5 528.5 743.5 529.5 744.5 532.5 744.5 531.5 745.5 529.5 746.5 532.5 747.5 532.5 748.5 529.5 749.5 528.5 749.5 523.5 750.5 531.5 750.5 530.5 751.5 532.5 752.5 528.5 752.5 527.5 753.5 532.5 754.5 530.5 755.5 528.5 755.5 532.5 756.5 530.5 757.5 522.5 758.5 527.5 758.5 529.5 759.5 530.5 760.5 532.5 761.5 529.5 762.5 532.5 763.5 530.5 764.5 527.5 765.5 527.5 765.5 524.5 766.5 528.5 767.5 527.5 768.5 531.5 768.5 531.5 769.5 531.5 770.5 528.5 771.5 532.5 772.5 527.5 773.5 530.5 774.5 528.5 774.5 527.5 775.5 530.5 776.5 527.5 777.5 530.5 778.5 528.5 779.5 531.5 780.5 532.5 780.5 532.5 781.5 532.5 782.5 527.5 782.5 532.5 783.5 529.5 784.5 530.5 785.5 529.5 786.5 528.5 787.5 530.5 788.5 529.5 789.5 530.5 790.5 530.5 790.5 527.5 791.5 531.5 792.5 528.5 793.5 530.5 794.5 532.5 795.5 528.5 796.5 529.5 797.5 531.5 798.5 532.5 799.5 529.5 799.5 531.5 800.5 530.5 800.5 529.5 801.5 530.5 801.5 529.5 802.5 525.5 803.5 523.5 804.5 532.5 805.5 530.5 806.5 530.5 807.5 529.5 808.5 527.5 808.5 530.5 809.5 526.5 810.5 532.5 811.5 532.5 812.5 532.5 812.5 530.5 813.5 529.5 813.5 527.5 814.5 528.5 814.5 529.5 815.5 529.5 815.5 529.5 816.5 531.5 817.5 529.5 818.5 527.5 819.5 527.5 820.5 528.5 820.5 529.5 821.5 532.5 822.5 531.5 823.5 530.5 824.5 531.5 824.5 532.5 825.5 531.5 826.5 527.5 827.5 532.5 828.5 524.5 828.5 530.5 829.5 526.5 830.5 528.5 831.5 532.5 831.5 532.5 832.5 532.5 832.5 530.5 833.5 532.5 834.5 531.5 835.5 531.5 836.5 532.5 837.5 531.5 838.5 530.5 839.5 529.5 839.5 531.5 840.5 532.5 840.5 531.5 841.5 529.5 842.5 532.5 843.5 530.5 843.5 532.5 844.5 527.5 845.5 532.5 846.5 530.5 847.5 532.5 847.5 530.5 848.5 528.5 849.5 527.5 849.5 528.5 850.5 527.5 850.5 532.5 851.5 528.5 852.5 532.5 853.5 527.5 854.5 523.5 855.5 532.5 855.5 527.5 856.5 528.5 856.5 528.5 857.5 523.5 858.5 532.5 858.5 531.5 859.5 529.5 860.5 531.5 861.5 531.5 862.5 530.5 862.5 528.5 863.5 527.5 864.5 527.5 865.5 531.5 865.5 532.5 866.5 532.5 867.5 532.5 868.5 528.5 868.5 532.5 869.5 528.5 870.5 532.5 870.5 529.5 871.5 532.5 871.5 529.5 872.5 528.5 873.5 529.5 874.5 532.5 875.5 532.5 876.5 531.5 877.5 527.5 877.5 530.5 878.5 532.5 878.5 530.5 879.5 528.5 879.5 532.5 880.5 532.5 881.5 527.5 881.5 530.5 882.5 530.5 883.5 531.5 883.5 532.5 884.5 527.5 884.5 528.5 885.5 532.5 886.5 528.5 887.5 527.5 888.5 531.5 888.5 518.5 889.5 532.5 890.5 531.5 890.5 532.5 891.5 528.5 892.5 530.5 892.5 529.5 893.5 530.5 894.5 529.5 895.5 530.5 896.5 530.5 897.5 527.5 898.5 525.5 899.5 532.5 900.5 528.5 901.5 532.5 902.5 530.5 902.5 531.5 903.5 531.5 904.5 531.5 905.5 529.5 905.5 532.5 906.5 532.5 907.5 527.5 908.5 528.5 908.5 531.5 909.5 532.5 910.5 529.5 911.5 524.5 911.5 530.5 912.5 529.5 913.5 531.5 914.5 529.5 915.5 530.5 916.5 532.5 917.5 529.5 918.5 527.5 919.5 530.5 920.5 532.5 921.5 531.5 922.5 532.5 922.5 527.5 923.5 528.5 924.5 531.5 925.5 531.5 926.5 532.5 927.5 530.5 927.5 518.5 928.5 524.5 928.5 527.5 929.5 532.5 930.5 532.5 930.5 530.5 931.5 518.5 932.5 523.5 933.5 528.5 934.5 532.5 935.5 528.5 936.5 529.5 936.5 524.5 937.5 527.5 938.5 532.5 938.5 528.5 939.5 531.5 940.5 530.5 941.5 527.5 941.5 530.5 942.5 532.5 943.5 532.5 944.5 524.5 945.5 529.5 946.5 530.5 946.5 527.5 947.5 531.5 947.5 531.5 948.5 532.5 949.5 529.5 949.5 529.5 950.5 524.5 951.5 532.5 951.5 528.5 952.5 528.5 953.5 532.5 954.5 518.5 955.5 528.5 956.5 526.5 957.5 530.5 957.5 527.5 958.5 532.5 958.5 530.5 959.5 532.5 960.5 529.5 960.5 530.5 961.5 529.5 962.5 532.5 963.5 529.5 964.5 529.5 964.5 532.5 965.5 526.5 966.5 528.5 967.5 530.5 967.5 527.5 968.5 532.5 969.5 528.5 970.5 518.5 970.5 532.5 971.5 532.5 972.5 531.5 973.5 532.5 974.5 532.5 975.5 531.5 976.5 525.5 976.5 528.5 977.5 528.5 977.5 526.5 978.5 527.5 979.5 525.5 979.5 531.5 980.5 532.5 980.5 532.5 981.5 531.5 982.5 530.5 983.5 531.5 984.5 528.5 985.5 529.5 986.5 531.5 987.5 528.5 987.5 530.5 988.5 530.5 989.5 532.5 990.5 524.5 991.5 532.5 991.5 531.5 992.5 531.5 993.5 532.5 994.5 532.5 995.5 531.5 996.5 530.5 997.5 524.5 998.5 532.5 998.5 532.5 999.5 530.5 1000.5 526.5 1001.5 527.5 1002.5 532.5 1002.5 530.5 1003.5 529.5 1004.5 530.5 1005.5 528.5 1006.5 532.5 1006.5 527.5 1007.5 529.5 1008.5 529.5 1009.5 529.5 1009.5 530.5 1010.5 532.5 1010.5 532.5 1011.5 530.5 1012.5 532.5 1013.5 529.5 1014.5 532.5 1015.5 529.5 1016.5 531.5 1016.5 529.5 1017.5 532.5 1018.5 532.5 1018.5 529.5 1019.5 528.5 1019.5 532.5 1020.5 532.5 1021.5 527.5 1021.5 528.5 1022.5 528.5 1023.5 528.5 1024.5 531.5 1025.5 526.5 1025.5 528.5 1026.5 526.5 1026.5 522.5 1027.5 530.5 1027.5 529.5 1028.5 530.5 1029.5 527.5 1030.5 527.5 1030.5 531.5 1031.5 528.5 1031.5 530.5 1032.5 528.5 1033.5 529.5 1033.5 530.5 1034.5 528.5 1035.5 531.5 1035.5 525.5 1036.5 528.5 1036.5 532.5 1037.5 527.5 1038.5 528.5 1038.5 530.5 1039.5 530.5 1040.5 532.5 1041.5 531.5 1041.5 532.5 1042.5 531.5 1043.5 532.5 1044.5 529.5 1045.5 530.5 1046.5 531.5 1046.5 531.5 1047.5 525.5 1048.5 520.5 1049.5 532.5 1050.5 532.5 1050.5 528.5 1051.5 531.5 1052.5 532.5 1053.5 528.5 1053.5 529.5 1054.5 531.5 1055.5 529.5 1056.5 529.5 1057.5 530.5 1057.5 532.5 1058.5 530.5 1059.5 529.5 1060.5 529.5 1061.5 532.5 1062.5 529.5 1063.5 532.5 1064.5 532.5 1064.5 529.5 1065.5 532.5 1066.5 530.5 1067.5 529.5 1067.5 527.5 1068.5 526.5 1069.5 529.5 1069.5 528.5 1070.5 528.5 1071.5 530.5 1071.5 531.5 1072.5 527.5 1072.5 524.5 1073.5 531.5 1073.5 532.5 1074.5 532.5 1074.5 529.5 1075.5 524.5 1075.5 529.5 1076.5 532.5 1076.5 527.5 1077.5 532.5 1078.5 532.5 1079.5 529.5 1080.5 528.5 1081.5 532.5 1082.5 532.5 1082.5 529.5 1083.5 528.5 1084.5 527.5 1084.5 529.5 1085.5 529.5 1085.5 528.5 1086.5 528.5 1086.5 529.5 1087.5 532.5 1088.5 529.5 1089.5 531.5 1090.5 532.5 1091.5 532.5 1092.5 532.5 1093.5 531.5 1093.5 529.5 1094.5 519.5 1094.5 532.5 1095.5 532.5 1095.5 528.5 1096.5 530.5 1097.5 531.5 1098.5 531.5 1099.5 527.5 1100.5 520.5 1100.5 530.5 1101.5 532.5 1102.5 532.5 1103.5 531.5 1103.5 530.5 1104.5 530.5 1104.5 532.5 1105.5 532.5 1106.5 532.5 1106.5 529.5 1107.5 532.5 1108.5 520.5 1108.5 532.5 1109.5 528.5 1109.5 531.5 1110.5 532.5 1111.5 531.5 1111.5 532.5 1112.5 527.5 1113.5 530.5 1114.5 530.5 1114.5 532.5 1115.5 530.5 1115.5 532.5 1116.5 526.5 1117.5 528.5 1118.5 530.5 1119.5 528.5 1120.5 532.5 1121.5 531.5 1122.5 527.5 1123.5 528.5 1124.5 531.5 1125.5 531.5 1126.5 532.5 1126.5 532.5 1127.5 524.5 1128.5 528.5 1129.5 528.5 1130.5 528.5 1131.5 527.5 1132.5 529.5 1133.5 532.5 1134.5 531.5 1135.5 528.5 1135.5 532.5 1136.5 530.5 1136.5 527.5 1137.5 528.5 1138.5 531.5 1139.5 532.5 1139.5 528.5 1140.5 529.5 1140.5 530.5 1141.5 529.5 1142.5 529.5 1142.5 532.5 1143.5 531.5 1144.5 527.5 1145.5 532.5 1145.5 531.5 1146.5 531.5 1146.5 532.5 1147.5 532.5 1148.5 532.5 1149.5 532.5 1150.5 532.5 1151.5 531.5 1151.5 532.5 1152.5 532.5 1152.5 530.5 1153.5 529.5 1154.5 521.5 1154.5 527.5 1155.5 531.5 1155.5 530.5 1156.5 527.5 1156.5 532.5 1157.5 530.5 1158.5 530.5 1159.5 531.5 1160.5 530.5 1161.5 528.5 1162.5 527.5 1163.5 531.5 1163.5 531.5 1164.5 528.5 1164.5 529.5 1165.5 531.5 1165.5 530.5 1166.5 532.5 1167.5 530.5 1167.5 532.5 1168.5 532.5 1169.5 532.5 1170.5 532.5 1170.5 531.5 1171.5 531.5 1171.5 531.5 1172.5 525.5 1172.5 532.5 1173.5 527.5 1174.5 530.5 1175.5 532.5 1175.5 530.5 1176.5 532.5 1177.5 531.5 1178.5 526.5 1179.5 532.5 1179.5 532.5 1180.5 530.5 1181.5 529.5 1181.5 531.5 1182.5 531.5 1183.5 531.5 1184.5 532.5 1185.5 529.5 1185.5 528.5 1186.5 530.5 1186.5 531.5 1187.5 530.5 1188.5 530.5 1189.5 532.5 1190.5 530.5 1190.5 528.5 1191.5 529.5 1192.5 529.5 1192.5 532.5 1193.5 526.5 1193.5 527.5 1194.5 528.5 1195.5 528.5 1196.5 531.5 1197.5 530.5 1198.5 530.5 1199.5 531.5 1200.5 530.5 1201.5 530.5 1202.5 530.5 1203.5 532.5 1204.5 532.5 1204.5 528.5 1205.5 527.5 1205.5 532.5 1206.5 532.5 1207.5 532.5 1208.5 527.5 1209.5 530.5 1210.5 521.5 1210.5 530.5 1211.5 530.5 1212.5 530.5 1213.5 529.5 1213.5 528.5 1214.5 527.5 1214.5 528.5 1215.5 527.5 1215.5 532.5 1216.5 530.5 1216.5 529.5 1217.5 530.5 1218.5 528.5 1219.5 528.5 1220.5 528.5 1221.5 524.5 1222.5 531.5 1223.5 530.5 1224.5 532.5 1225.5 528.5 1226.5 531.5 1227.5 529.5 1227.5 531.5 1228.5 529.5 1229.5 531.5 1229.5 532.5 1230.5 531.5 1230.5 529.5 1231.5 531.5 1232.5 532.5 1233.5 530.5 1233.5 527.5 1234.5 530.5 1235.5 530.5 1235.5 531.5 1236.5 527.5 1236.5 525.5 1237.5 532.5 1238.5 532.5 1239.5 532.5 1240.5 531.5 1240.5 532.5 1241.5 530.5 1242.5 532.5 1243.5 530.5 1243.5 531.5 1244.5 532.5 1244.5 532.5 1245.5 529.5 1245.5 528.5 1246.5 532.5 1246.5 529.5 1247.5 532.5 1248.5 530.5 1249.5 528.5 1250.5 532.5 1251.5 530.5 1252.5 527.5 1253.5 532.5 1254.5 528.5 1255.5 532.5 1255.5 531.5 1256.5 528.5 1257.5 527.5 1257.5 531.5 1258.5 531.5 1259.5 531.5 1260.5 532.5 1260.5 531.5 1261.5 527.5 1262.5 529.5 1262.5 527.5 1263.5 529.5 1264.5 529.5 1265.5 530.5 1266.5 532.5 1267.5 530.5 1268.5 531.5 1269.5 532.5 1270.5 531.5 1271.5 527.5 1272.5 525.5 1273.5 530.5 1273.5 531.5 1274.5 531.5 1274.5 531.5 1275.5 526.5 1275.5 528.5 1276.5 531.5 1277.5 528.5 1277.5 531.5 1278.5 531.5 1279.5 527.5 1280.5 532.5 1281.5 532.5 1282.5 528.5 1283.5 530.5 1284.5 531.5 1285.5 525.5 1286.5 527.5 1287.5 527.5 1288.5 524.5 1289.5 529.5 1290.5 531.5 1291.5 532.5 1292.5 532.5 1292.5 530.5 1293.5 524.5 1294.5 532.5 1295.5 529.5 1295.5 523.5 1296.5 531.5 1296.5 530.5 1297.5 529.5 1298.5 532.5 1299.5 532.5 1300.5 528.5 1301.5 527.5 1302.5 529.5 1303.5 527.5 1304.5 527.5 1304.5 531.5 1305.5 531.5 1306.5 529.5 1307.5 529.5 1308.5 531.5 1309.5 528.5 1310.5 532.5 1311.5 528.5 1312.5 532.5 1313.5 531.5 1314.5 529.5 1315.5 531.5 1316.5 528.5 1316.5 532.5 1317.5 525.5 1317.5 532.5 1318.5 529.5 1319.5 531.5 1320.5 530.5 1320.5 530.5 1321.5 531.5 1321.5 532.5 1322.5 531.5 1323.5 528.5 1324.5 528.5 1325.5 532.5 1325.5 529.5 1326.5 527.5 1327.5 529.5 1327.5 526.5 1328.5 531.5 1329.5 529.5 1329.5 532.5 1330.5 532.5 1331.5 528.5 1332.5 529.5 1332.5 529.5 1333.5 530.5 1334.5 527.5 1335.5 529.5 1336.5 532.5 1337.5 532.5 1338.5 529.5 1339.5 530.5 1339.5 524.5 1340.5 532.5 1341.5 531.5 1342.5 531.5 1343.5 529.5 1343.5 532.5 1344.5 532.5 1345.5 532.5 1345.5 530.5 1346.5 531.5 1346.5 532.5 1347.5 531.5 1347.5 532.5 1348.5 528.5 1349.5 528.5 1350.5 532.5 1351.5 527.5 1352.5 532.5 1353.5 531.5 1353.5 530.5 1354.5 532.5 1355.5 532.5 1356.5 528.5 1357.5 529.5 1357.5 528.5 1358.5 525.5 1359.5 531.5 1360.5 529.5 1360.5 529.5 1361.5 532.5 1361.5 528.5 1362.5 527.5 L1362.5 531.5 L700.5 531.5 L101.5 531.5" fill="none" stroke="#00c000" stroke-width="1" stroke-linejoin="miter"/>
<path class="c" d="M139 479h1v53h-1zM140 506h1v26h-1zM498 478h1v54h-1zM499 424h1v108h-1zM501 478h1v54h-1zM503 515h1v17h-1zM509 445h1v87h-1zM510 488h1v44h-1zM511 488h1v44h-1zM562 410h1v122h-1zM560 471h1v61h-1zM561 471h1v1h-1zM552 513h1v19h-1zM585 485h1v47h-1zM584 507h1v25h-1zM626 504h1v28h-1zM640 513h1v19h-1zM674 488h1v44h-1zM673 508h1v24h-1zM685 508h1v24h-1zM694 508h1v24h-1zM714 508h1v24h-1zM748 517h1v16h-1zM730 515h1v11h-1zM779 457h1v76h-1zM781 459h1v74h-1zM778 476h1v15h-1zM784 508h1v25h-1zM783 503h1v30h-1zM807 494h1v39h-1zM820 440h1v93h-1zM821 486h1v47h-1zM819 515h1v18h-1zM818 519h1v14h-1zM844 476h1v57h-1zM851 502h1v31h-1zM852 450h1v83h-1zM853 424h1v109h-1zM854 426h1v107h-1zM858 515h1v18h-1zM837 517h1v16h-1zM811 508h1v25h-1zM893 508h1v25h-1zM908 515h1v18h-1zM927 517h1v16h-1zM952 504h1v29h-1zM961 508h1v25h-1zM998 515h1v18h-1zM1015 517h1v16h-1zM1086 513h1v20h-1zM1105 517h1v16h-1zM1116 513h1v20h-1zM1119 508h1v25h-1zM1175 515h1v18h-1zM1194 518h1v15h-1zM1158 386h1v73h-1zM1159 440h1v93h-1zM1157 458h1v75h-1zM1160 513h1v20h-1zM1219 504h1v29h-1zM1220 512h1v21h-1zM1228 501h1v32h-1zM1229 512h1v21h-1zM1245 504h1v29h-1zM1264 515h1v18h-1zM1297 508h1v25h-1zM1318 506h1v27h-1zM1354 513h1v20h-1zM107 517h1v15h-1zM112 517h1v15h-1zM121 508h1v24h-1zM120 518h1v14h-1zM134 521h1v11h-1zM215 517h1v15h-1zM274 504h1v28h-1zM275 514h1v18h-1zM285 515h1v17h-1zM259 519h1v13h-1zM374 515h1v17h-1zM394 517h1v15h-1zM414 515h1v17h-1zM437 519h1v13h-1zM463 515h1v17h-1zM482 517h1v15h-1zM571 517h1v15h-1z" fill="#00c000"/>
<path class="c" d="M740 532h623v1h-623z" fill="#00c000"/>
<path class="c" d="M160.5 527.5 L193.5 527.5 L194.5 528.5 L206.5 528.5 L207.5 531.5" fill="none" stroke="#00c000" stroke-width="1"/>
<path class="c" d="M105.5 525.5 106.5 527.5 107.5 526.5 108.5 527.5 109.5 526.5 110.5 526.5 111.5 525.5 112.5 525.5 113.5 526.5 114.5 527.5 115.5 527.5 116.5 525.5 117.5 524.5 118.5 526.5 119.5 526.5 120.5 522.5 121.5 526.5 122.5 525.5 123.5 526.5 124.5 526.5 125.5 525.5 126.5 526.5 127.5 526.5 128.5 526.5 129.5 524.5 130.5 527.5 131.5 523.5 132.5 526.5 133.5 526.5 134.5 522.5 135.5 526.5 136.5 525.5 137.5 523.5 138.5 526.5 139.5 525.5 140.5 528.5 141.5 525.5 142.5 526.5 143.5 528.5 144.5 526.5 145.5 526.5 146.5 526.5 147.5 525.5 148.5 526.5 149.5 524.5 150.5 526.5 151.5 526.5 152.5 526.5 153.5 526.5 154.5 527.5 M207.5 525.5 208.5 526.5 209.5 525.5 210.5 526.5 211.5 526.5 212.5 526.5 213.5 526.5 214.5 526.5 215.5 527.5 216.5 527.5 217.5 526.5 218.5 526.5 219.5 524.5 220.5 526.5 221.5 526.5 222.5 527.5 223.5 525.5 224.5 526.5 225.5 527.5 226.5 524.5 227.5 525.5 228.5 528.5 229.5 526.5 230.5 526.5 231.5 525.5 232.5 527.5 233.5 526.5 234.5 525.5 235.5 526.5 236.5 525.5 237.5 525.5 238.5 523.5 239.5 527.5 240.5 525.5 241.5 527.5 242.5 524.5 243.5 526.5 244.5 527.5 245.5 526.5 246.5 524.5 247.5 526.5 248.5 526.5 249.5 526.5 250.5 526.5 251.5 522.5 252.5 524.5 253.5 525.5 254.5 527.5 255.5 526.5 256.5 526.5 257.5 528.5 258.5 523.5 259.5 526.5 260.5 523.5 261.5 527.5 262.5 526.5 263.5 525.5 264.5 528.5 265.5 525.5 266.5 525.5 267.5 526.5 268.5 526.5 269.5 525.5 270.5 525.5 271.5 526.5 272.5 526.5 273.5 522.5 274.5 526.5 275.5 525.5 276.5 526.5 277.5 527.5 278.5 526.5 279.5 526.5 280.5 525.5 281.5 526.5 282.5 525.5 283.5 525.5 284.5 526.5 285.5 524.5 286.5 526.5 287.5 528.5 288.5 526.5 289.5 528.5 290.5 527.5 291.5 523.5 292.5 525.5 293.5 526.5 294.5 526.5 295.5 526.5 296.5 526.5 297.5 526.5 298.5 526.5 299.5 521.5 300.5 526.5 301.5 526.5 302.5 526.5 303.5 527.5 304.5 526.5 305.5 527.5 306.5 526.5 307.5 525.5 308.5 525.5 309.5 525.5 310.5 526.5 311.5 526.5 312.5 526.5 313.5 526.5 314.5 526.5 315.5 524.5 316.5 526.5 317.5 526.5 318.5 527.5 319.5 526.5 320.5 527.5 321.5 524.5 322.5 525.5 323.5 528.5 324.5 526.5 325.5 527.5 326.5 522.5 327.5 526.5 328.5 526.5 329.5 526.5 330.5 524.5 331.5 524.5 332.5 526.5 333.5 526.5 334.5 526.5 335.5 527.5 336.5 527.5 337.5 525.5 338.5 526.5 339.5 526.5 340.5 526.5 341.5 521.5 342.5 527.5 343.5 526.5 344.5 525.5 345.5 526.5 346.5 525.5 347.5 525.5 348.5 525.5 349.5 526.5 350.5 526.5 351.5 526.5 352.5 526.5 353.5 525.5 354.5 526.5 355.5 525.5 356.5 526.5 357.5 526.5 358.5 526.5 359.5 525.5 360.5 526.5 361.5 526.5 362.5 526.5 363.5 525.5 364.5 526.5 365.5 526.5 366.5 525.5 367.5 525.5 368.5 526.5 369.5 526.5 370.5 524.5 371.5 526.5 372.5 525.5 373.5 526.5 374.5 526.5 375.5 526.5 376.5 526.5 377.5 525.5 378.5 525.5 379.5 528.5 380.5 526.5 381.5 524.5 382.5 526.5 383.5 521.5 384.5 526.5 385.5 526.5 386.5 525.5 387.5 526.5 388.5 525.5 389.5 524.5 390.5 525.5 391.5 524.5 392.5 527.5 393.5 526.5 394.5 526.5 395.5 526.5 396.5 525.5 397.5 525.5 398.5 526.5 399.5 525.5 400.5 526.5 401.5 526.5 402.5 525.5 403.5 525.5 404.5 527.5 405.5 526.5 406.5 524.5 407.5 525.5 408.5 526.5 409.5 526.5 410.5 526.5 411.5 524.5 412.5 527.5 413.5 526.5 414.5 525.5 415.5 527.5 416.5 526.5 417.5 524.5 418.5 525.5 419.5 526.5 420.5 528.5 421.5 527.5 422.5 526.5 423.5 526.5 424.5 525.5 425.5 525.5 426.5 521.5 427.5 525.5 428.5 526.5 429.5 526.5 430.5 525.5 431.5 526.5 432.5 525.5 433.5 526.5 434.5 526.5 435.5 525.5 436.5 526.5 437.5 527.5 438.5 526.5 439.5 524.5 440.5 526.5 441.5 525.5 442.5 526.5 443.5 526.5 444.5 526.5 445.5 525.5 446.5 526.5 447.5 526.5 448.5 526.5 449.5 526.5 450.5 526.5 451.5 526.5 452.5 524.5 453.5 527.5 454.5 526.5 455.5 525.5 456.5 525.5 457.5 525.5 458.5 525.5 459.5 526.5 460.5 526.5 461.5 527.5 462.5 526.5 463.5 525.5 464.5 526.5 465.5 525.5 466.5 526.5 467.5 526.5 468.5 526.5 469.5 526.5 470.5 526.5 471.5 527.5 472.5 526.5 473.5 526.5 474.5 526.5 475.5 525.5 476.5 525.5 477.5 526.5 478.5 526.5 479.5 524.5 480.5 525.5 481.5 526.5 482.5 525.5 483.5 526.5 484.5 526.5 485.5 526.5 486.5 525.5 487.5 525.5 488.5 524.5 489.5 526.5 490.5 522.5 491.5 526.5 492.5 526.5 493.5 526.5 494.5 526.5 495.5 521.5 496.5 522.5 497.5 528.5 498.5 525.5 499.5 521.5 500.5 526.5 501.5 526.5 502.5 526.5 503.5 526.5 504.5 526.5 505.5 525.5 506.5 526.5 507.5 527.5 508.5 525.5 509.5 527.5 510.5 526.5 511.5 526.5 512.5 527.5 513.5 524.5 514.5 524.5 515.5 525.5 516.5 526.5 517.5 526.5 518.5 525.5 519.5 526.5 520.5 526.5 521.5 526.5 522.5 527.5 523.5 526.5 524.5 526.5 525.5 525.5 526.5 526.5 527.5 526.5 528.5 525.5 529.5 526.5 530.5 527.5 531.5 526.5 532.5 525.5 533.5 526.5 534.5 525.5 535.5 527.5 536.5 526.5 537.5 526.5 538.5 526.5 539.5 524.5 540.5 526.5 541.5 526.5 542.5 521.5 543.5 521.5 544.5 526.5 545.5 525.5 546.5 526.5 547.5 525.5 548.5 526.5 549.5 526.5 550.5 524.5 551.5 526.5 552.5 524.5 553.5 526.5 554.5 526.5 555.5 526.5 556.5 525.5 557.5 526.5 558.5 526.5 559.5 526.5 560.5 526.5 561.5 526.5 562.5 526.5 563.5 525.5 564.5 525.5 565.5 526.5 566.5 526.5 567.5 527.5 568.5 526.5 569.5 525.5 570.5 526.5 571.5 524.5 572.5 526.5 573.5 526.5 574.5 526.5 575.5 528.5 576.5 525.5 577.5 526.5 578.5 526.5 579.5 524.5 580.5 526.5 581.5 526.5 582.5 526.5 583.5 526.5 584.5 527.5 585.5 526.5 586.5 527.5 587.5 524.5 588.5 526.5 589.5 525.5 590.5 525.5 591.5 527.5 592.5 524.5 593.5 526.5 594.5 525.5 595.5 525.5 596.5 526.5 597.5 526.5 598.5 525.5 599.5 525.5 600.5 526.5 601.5 525.5 602.5 524.5 603.5 526.5 604.5 526.5 605.5 526.5 606.5 525.5 607.5 526.5 608.5 527.5 609.5 525.5 610.5 525.5 611.5 525.5 612.5 526.5 613.5 525.5 614.5 524.5 615.5 525.5 616.5 527.5 617.5 526.5 618.5 526.5 619.5 525.5 620.5 528.5 621.5 526.5 622.5 526.5 623.5 526.5 624.5 526.5 625.5 525.5 626.5 526.5 627.5 528.5 628.5 525.5 629.5 525.5 630.5 524.5 631.5 524.5 632.5 526.5 633.5 526.5 634.5 525.5 635.5 525.5 636.5 524.5 637.5 526.5 638.5 526.5 639.5 524.5 640.5 526.5 641.5 526.5 642.5 526.5 643.5 526.5 644.5 526.5 645.5 526.5 646.5 525.5 647.5 525.5 648.5 524.5 649.5 526.5 650.5 526.5 651.5 524.5 652.5 526.5 653.5 525.5 654.5 526.5 655.5 527.5 656.5 526.5 657.5 527.5 658.5 526.5 659.5 528.5 660.5 525.5 661.5 527.5 662.5 526.5 663.5 525.5 664.5 525.5 665.5 526.5 666.5 525.5 667.5 525.5 668.5 527.5 669.5 521.5 670.5 526.5 671.5 526.5 672.5 525.5 673.5 521.5 674.5 526.5 675.5 526.5 676.5 526.5 677.5 528.5 678.5 526.5 679.5 527.5 680.5 525.5 681.5 526.5 682.5 525.5 683.5 524.5 684.5 525.5 685.5 525.5 686.5 525.5 687.5 526.5 688.5 528.5 689.5 526.5 690.5 525.5 691.5 526.5 692.5 526.5 693.5 526.5 694.5 528.5 695.5 526.5 696.5 526.5 697.5 526.5 698.5 525.5 699.5 525.5 700.5 526.5 701.5 522.5 702.5 526.5 703.5 528.5 704.5 526.5 705.5 523.5 706.5 526.5 707.5 525.5 708.5 526.5 709.5 527.5 710.5 522.5 711.5 526.5 712.5 526.5 713.5 522.5 714.5 526.5 715.5 525.5 716.5 526.5 717.5 526.5 718.5 526.5 719.5 526.5 720.5 525.5 721.5 527.5 722.5 526.5 723.5 527.5 724.5 526.5 725.5 527.5 726.5 525.5 727.5 526.5 728.5 527.5 729.5 527.5 730.5 526.5 731.5 524.5 732.5 526.5 733.5 526.5 734.5 523.5 735.5 525.5 736.5 526.5 737.5 526.5 738.5 527.5 739.5 525.5 740.5 526.5 741.5 522.5 742.5 524.5 743.5 527.5 744.5 525.5 745.5 525.5 746.5 524.5 747.5 524.5 748.5 525.5 749.5 526.5 750.5 524.5 751.5 524.5 752.5 526.5 753.5 525.5 754.5 520.5 755.5 524.5 756.5 524.5 757.5 525.5 758.5 524.5 759.5 525.5 760.5 525.5 761.5 525.5 762.5 524.5 763.5 525.5 764.5 525.5 765.5 523.5 766.5 525.5 767.5 526.5 768.5 525.5 769.5 525.5 770.5 524.5 771.5 524.5 772.5 525.5 773.5 525.5 774.5 524.5 775.5 523.5 776.5 525.5 777.5 525.5 778.5 524.5 779.5 525.5 780.5 524.5 781.5 525.5 782.5 525.5 783.5 525.5 784.5 525.5 785.5 525.5 786.5 525.5 787.5 525.5 788.5 526.5 789.5 525.5 790.5 525.5 791.5 524.5 792.5 524.5 793.5 524.5 794.5 524.5 795.5 520.5 796.5 526.5 797.5 525.5 798.5 525.5 799.5 521.5 800.5 520.5 801.5 525.5 802.5 525.5 803.5 521.5 804.5 525.5 805.5 525.5 806.5 525.5 807.5 525.5 808.5 526.5 809.5 524.5 810.5 525.5 811.5 526.5 812.5 525.5 813.5 525.5 814.5 525.5 815.5 524.5 816.5 526.5 817.5 524.5 818.5 525.5 819.5 525.5 820.5 526.5 821.5 524.5 822.5 526.5 823.5 525.5 824.5 526.5 825.5 525.5 826.5 525.5 827.5 525.5 828.5 524.5 829.5 524.5 830.5 525.5 831.5 525.5 832.5 524.5 833.5 525.5 834.5 525.5 835.5 525.5 836.5 525.5 837.5 524.5 838.5 522.5 839.5 526.5 840.5 526.5 841.5 520.5 842.5 521.5 843.5 524.5 844.5 524.5 845.5 525.5 846.5 523.5 847.5 526.5 848.5 524.5 849.5 525.5 850.5 523.5 851.5 525.5 852.5 524.5 853.5 524.5 854.5 525.5 855.5 525.5 856.5 525.5 857.5 525.5 858.5 525.5 859.5 525.5 860.5 525.5 861.5 523.5 862.5 525.5 863.5 525.5 864.5 523.5 865.5 525.5 866.5 524.5 867.5 525.5 868.5 523.5 869.5 525.5 870.5 525.5 871.5 523.5 872.5 523.5 873.5 525.5 874.5 525.5 875.5 523.5 876.5 524.5 877.5 523.5 878.5 524.5 879.5 526.5 880.5 525.5 881.5 524.5 882.5 525.5 883.5 524.5 884.5 524.5 885.5 524.5 886.5 525.5 887.5 525.5 888.5 525.5 889.5 525.5 890.5 525.5 891.5 524.5 892.5 527.5 893.5 525.5 894.5 524.5 895.5 524.5 896.5 527.5 897.5 525.5 898.5 525.5 899.5 525.5 900.5 524.5 901.5 524.5 902.5 525.5 903.5 527.5 904.5 525.5 905.5 525.5 906.5 526.5 907.5 525.5 908.5 526.5 909.5 524.5 910.5 525.5 911.5 522.5 912.5 526.5 913.5 525.5 914.5 525.5 915.5 524.5 916.5 525.5 917.5 525.5 918.5 523.5 919.5 523.5 920.5 522.5 921.5 524.5 922.5 522.5 923.5 525.5 924.5 521.5 925.5 525.5 926.5 525.5 927.5 524.5 928.5 524.5 929.5 524.5 930.5 526.5 931.5 526.5 932.5 520.5 933.5 525.5 934.5 520.5 935.5 525.5 936.5 524.5 937.5 525.5 938.5 524.5 939.5 524.5 940.5 525.5 941.5 525.5 942.5 525.5 943.5 525.5 944.5 525.5 945.5 525.5 946.5 525.5 947.5 524.5 948.5 525.5 949.5 525.5 950.5 525.5 951.5 525.5 952.5 526.5 953.5 521.5 954.5 525.5 955.5 524.5 956.5 525.5 957.5 525.5 958.5 521.5 959.5 525.5 960.5 524.5 961.5 525.5 962.5 520.5 963.5 525.5 964.5 527.5 965.5 525.5 966.5 525.5 967.5 520.5 968.5 523.5 969.5 525.5 970.5 521.5 971.5 525.5 972.5 524.5 973.5 526.5 974.5 525.5 975.5 526.5 976.5 523.5 977.5 524.5 978.5 524.5 979.5 525.5 980.5 525.5 981.5 525.5 982.5 525.5 983.5 525.5 984.5 524.5 985.5 524.5 986.5 524.5 987.5 525.5 988.5 525.5 989.5 525.5 990.5 525.5 991.5 525.5 992.5 524.5 993.5 525.5 994.5 525.5 995.5 525.5 996.5 526.5 997.5 520.5 998.5 525.5 999.5 521.5 1000.5 525.5 1001.5 524.5 1002.5 525.5 1003.5 525.5 1004.5 524.5 1005.5 525.5 1006.5 525.5 1007.5 525.5 1008.5 524.5 1009.5 525.5 1010.5 525.5 1011.5 524.5 1012.5 525.5 1013.5 525.5 1014.5 525.5 1015.5 524.5 1016.5 524.5 1017.5 525.5 1018.5 521.5 1019.5 523.5 1020.5 523.5 1021.5 524.5 1022.5 525.5 1023.5 525.5 1024.5 525.5 1025.5 524.5 1026.5 525.5 1027.5 524.5 1028.5 525.5 1029.5 524.5 1030.5 524.5 1031.5 525.5 1032.5 525.5 1033.5 524.5 1034.5 525.5 1035.5 523.5 1036.5 524.5 1037.5 523.5 1038.5 525.5 1039.5 525.5 1040.5 523.5 1041.5 527.5 1042.5 526.5 1043.5 525.5 1044.5 525.5 1045.5 525.5 1046.5 524.5 1047.5 525.5 1048.5 525.5 1049.5 525.5 1050.5 526.5 1051.5 525.5 1052.5 526.5 1053.5 525.5 1054.5 525.5 1055.5 525.5 1056.5 526.5 1057.5 525.5 1058.5 523.5 1059.5 525.5 1060.5 525.5 1061.5 525.5 1062.5 524.5 1063.5 520.5 1064.5 525.5 1065.5 524.5 1066.5 524.5 1067.5 525.5 1068.5 523.5 1069.5 525.5 1070.5 525.5 1071.5 524.5 1072.5 526.5 1073.5 524.5 1074.5 525.5 1075.5 525.5 1076.5 523.5 1077.5 524.5 1078.5 524.5 1079.5 526.5 1080.5 525.5 1081.5 524.5 1082.5 523.5 1083.5 524.5 1084.5 527.5 1085.5 525.5 1086.5 526.5 1087.5 526.5 1088.5 526.5 1089.5 525.5 1090.5 525.5 1091.5 527.5 1092.5 525.5 1093.5 525.5 1094.5 525.5 1095.5 526.5 1096.5 526.5 1097.5 525.5 1098.5 525.5 1099.5 526.5 1100.5 524.5 1101.5 525.5 1102.5 522.5 1103.5 524.5 1104.5 524.5 1105.5 525.5 1106.5 524.5 1107.5 524.5 1108.5 525.5 1109.5 525.5 1110.5 525.5 1111.5 524.5 1112.5 524.5 1113.5 525.5 1114.5 525.5 1115.5 525.5 1116.5 525.5 1117.5 525.5 1118.5 524.5 1119.5 524.5 1120.5 526.5 1121.5 526.5 1122.5 525.5 1123.5 525.5 1124.5 525.5 1125.5 524.5 1126.5 525.5 1127.5 525.5 1128.5 525.5 1129.5 525.5 1130.5 526.5 1131.5 522.5 1132.5 525.5 1133.5 526.5 1134.5 525.5 1135.5 527.5 1136.5 527.5 1137.5 524.5 1138.5 525.5 1139.5 525.5 1140.5 524.5 1141.5 526.5 1142.5 522.5 1143.5 526.5 1144.5 525.5 1145.5 523.5 1146.5 525.5 1147.5 525.5 1148.5 524.5 1149.5 525.5 1150.5 524.5 1151.5 525.5 1152.5 525.5 1153.5 526.5 1154.5 525.5 1155.5 527.5 1156.5 525.5 1157.5 525.5 1158.5 525.5 1159.5 527.5 1160.5 524.5 1161.5 525.5 1162.5 524.5 1163.5 525.5 1164.5 524.5 1165.5 525.5 1166.5 526.5 1167.5 524.5 1168.5 525.5 1169.5 525.5 1170.5 525.5 1171.5 525.5 1172.5 525.5 1173.5 525.5 1174.5 525.5 1175.5 523.5 1176.5 525.5 1177.5 524.5 1178.5 525.5 1179.5 525.5 1180.5 525.5 1181.5 525.5 1182.5 525.5 1183.5 525.5 1184.5 525.5 1185.5 524.5 1186.5 525.5 1187.5 524.5 1188.5 525.5 1189.5 525.5 1190.5 526.5 1191.5 525.5 1192.5 526.5 1193.5 525.5 1194.5 524.5 1195.5 526.5 1196.5 525.5 1197.5 525.5 1198.5 525.5 1199.5 525.5 1200.5 527.5 1201.5 525.5 1202.5 525.5 1203.5 526.5 1204.5 525.5 1205.5 524.5 1206.5 524.5 1207.5 525.5 1208.5 526.5 1209.5 525.5 1210.5 526.5 1211.5 525.5 1212.5 525.5 1213.5 522.5 1214.5 525.5 1215.5 525.5 1216.5 525.5 1217.5 524.5 1218.5 525.5 1219.5 523.5 1220.5 524.5 1221.5 520.5 1222.5 525.5 1223.5 525.5 1224.5 525.5 1225.5 524.5 1226.5 525.5 1227.5 525.5 1228.5 525.5 1229.5 523.5 1230.5 526.5 1231.5 525.5 1232.5 524.5 1233.5 525.5 1234.5 525.5 1235.5 525.5 1236.5 525.5 1237.5 524.5 1238.5 527.5 1239.5 526.5 1240.5 521.5 1241.5 527.5 1242.5 526.5 1243.5 527.5 1244.5 526.5 1245.5 525.5 1246.5 525.5 1247.5 525.5 1248.5 527.5 1249.5 524.5 1250.5 526.5 1251.5 525.5 1252.5 526.5 1253.5 525.5 1254.5 525.5 1255.5 525.5 1256.5 526.5 1257.5 524.5 1258.5 520.5 1259.5 525.5 1260.5 525.5 1261.5 525.5 1262.5 524.5 1263.5 525.5 1264.5 525.5 1265.5 525.5 1266.5 526.5 1267.5 525.5 1268.5 524.5 1269.5 525.5 1270.5 525.5 1271.5 525.5 1272.5 525.5 1273.5 524.5 1274.5 522.5 1275.5 527.5 1276.5 524.5 1277.5 523.5 1278.5 523.5 1279.5 525.5 1280.5 525.5 1281.5 525.5 1282.5 523.5 1283.5 525.5 1284.5 525.5 1285.5 525.5 1286.5 526.5 1287.5 525.5 1288.5 523.5 1289.5 525.5 1290.5 525.5 1291.5 525.5 1292.5 525.5 1293.5 524.5 1294.5 526.5 1295.5 525.5 1296.5 524.5 1297.5 525.5 1298.5 524.5 1299.5 524.5 1300.5 525.5 1301.5 522.5 1302.5 525.5 1303.5 525.5 1304.5 525.5 1305.5 524.5 1306.5 524.5 1307.5 525.5 1308.5 525.5 1309.5 525.5 1310.5 523.5 1311.5 525.5 1312.5 522.5 1313.5 525.5 1314.5 524.5 1315.5 526.5 1316.5 524.5 1317.5 526.5 1318.5 525.5 1319.5 525.5 1320.5 525.5 1321.5 525.5 1322.5 523.5 1323.5 526.5 1324.5 523.5 1325.5 525.5 1326.5 524.5 1327.5 525.5 1328.5 521.5 1329.5 527.5 1330.5 525.5 1331.5 525.5 1332.5 523.5 1333.5 525.5 1334.5 523.5 1335.5 526.5 1336.5 525.5 1337.5 525.5 1338.5 524.5 1339.5 525.5 1340.5 525.5 1341.5 525.5 1342.5 525.5 1343.5 526.5 1344.5 524.5 1345.5 526.5 1346.5 526.5 1347.5 525.5 1348.5 525.5 1349.5 525.5 1350.5 524.5 1351.5 525.5 1352.5 524.5 1353.5 523.5 1354.5 525.5 1355.5 524.5 1356.5 525.5 1357.5 524.5 1358.5 524.5 1359.5 524.5 1360.5 525.5 1361.5 525.5 1362.5 525.5 L1362.5 525.5 L740.5 525.5 L739.5 526.5 L101.5 526.5" fill="none" stroke="#0080ff" stroke-width="1" stroke-linejoin="miter"/>
<path class="c" d="M119 508h1v19h-1zM118 516h1v11h-1zM126 521h1v6h-1zM113 519h1v8h-1zM232 513h1v14h-1zM294 512h1v15h-1zM300 502h1v25h-1zM301 515h1v12h-1zM495 497h1v30h-1zM496 512h1v15h-1zM510 440h1v43h-1zM512 482h1v45h-1zM510 482h1v45h-1zM511 482h1v1h-1zM618 499h1v28h-1zM619 512h1v15h-1zM702 516h1v11h-1zM779 494h1v32h-1zM781 494h1v32h-1zM807 388h1v70h-1zM806 457h1v69h-1zM808 457h1v69h-1zM854 447h1v79h-1zM855 494h1v32h-1zM856 494h1v32h-1zM843 504h1v22h-1zM845 504h1v22h-1zM844 504h1v1h-1zM872 505h1v21h-1zM877 380h1v73h-1zM876 452h1v74h-1zM878 452h1v74h-1zM901 519h1v7h-1zM804 521h1v5h-1zM1131 506h1v20h-1zM1132 516h1v10h-1zM1241 512h1v14h-1zM1254 485h1v41h-1zM1255 500h1v26h-1zM755 515h1v11h-1zM597 517h1v10h-1zM669 518h1v9h-1zM795 516h1v10h-1zM1302 518h1v8h-1z" fill="#0080ff"/>
<rect class="c" x="772" y="481" width="13" height="13" fill="#00eeee"/>
<rect class="c" x="846" y="481" width="13" height="13" fill="#00eeee"/>
<rect class="c" x="1023" y="481" width="13" height="13" fill="#00eeee"/>
<rect class="c" x="1238" y="481" width="13" height="13" fill="#00eeee"/>
<rect class="c" x="1306" y="481" width="13" height="13" fill="#00eeee"/>
<rect class="c" x="1321" y="481" width="13" height="13" fill="#00eeee"/>
<polygon class="c" points="100.5,485.5 106.5,485.5 108.5,487.5 108.5,493.5 106.5,495.5 100.5,495.5 98.5,493.5 98.5,487.5" fill="none" stroke="#c04000" stroke-width="1"/>
<path class="c" d="M103 484h1v1h-1zM103 496h1v1h-1zM97 490h1v1h-1zM109 490h1v1h-1z" fill="#c04000"/>
<polygon class="c" points="146.5,481.5 152.5,481.5 154.5,483.5 154.5,489.5 152.5,491.5 146.5,491.5 144.5,489.5 144.5,483.5" fill="none" stroke="#c04000" stroke-width="1"/>
<path class="c" d="M149 480h1v1h-1zM149 492h1v1h-1zM143 486h1v1h-1zM155 486h1v1h-1z" fill="#c04000"/>
<polygon class="c" points="205.5,485.5 211.5,485.5 213.5,487.5 213.5,493.5 211.5,495.5 205.5,495.5 203.5,493.5 203.5,487.5" fill="none" stroke="#c04000" stroke-width="1"/>
<path class="c" d="M208 484h1v1h-1zM208 496h1v1h-1zM202 490h1v1h-1zM214 490h1v1h-1z" fill="#c04000"/>
<polygon class="c" points="252.5,485.5 258.5,485.5 260.5,487.5 260.5,493.5 258.5,495.5 252.5,495.5 250.5,493.5 250.5,487.5" fill="none" stroke="#c04000" stroke-width="1"/>
<path class="c" d="M255 484h1v1h-1zM255 496h1v1h-1zM249 490h1v1h-1zM261 490h1v1h-1z" fill="#c04000"/>
<polygon class="c" points="259.5,482.5 265.5,482.5 267.5,484.5 267.5,490.5 265.5,492.5 259.5,492.5 257.5,490.5 257.5,484.5" fill="none" stroke="#c04000" stroke-width="1"/>
<path class="c" d="M262 481h1v1h-1zM262 493h1v1h-1zM256 487h1v1h-1zM268 487h1v1h-1z" fill="#c04000"/>
<polygon class="c" points="304.5,485.5 310.5,485.5 312.5,487.5 312.5,493.5 310.5,495.5 304.5,495.5 302.5,493.5 302.5,487.5" fill="none" stroke="#c04000" stroke-width="1"/>
<path class="c" d="M307 484h1v1h-1zM307 496h1v1h-1zM301 490h1v1h-1zM313 490h1v1h-1z" fill="#c04000"/>
<polygon class="c" points="312.5,485.5 318.5,485.5 320.5,487.5 320.5,493.5 318.5,495.5 312.5,495.5 310.5,493.5 310.5,487.5" fill="none" stroke="#c04000" stroke-width="1"/>
<path class="c" d="M315 484h1v1h-1zM315 496h1v1h-1zM309 490h1v1h-1zM321 490h1v1h-1z" fill="#c04000"/>
<polygon class="c" points="357.5,486.5 363.5,486.5 365.5,488.5 365.5,494.5 363.5,496.5 357.5,496.5 355.5,494.5 355.5,488.5" fill="none" stroke="#c04000" stroke-width="1"/>
<path class="c" d="M360 485h1v1h-1zM360 497h1v1h-1zM354 491h1v1h-1zM366 491h1v1h-1z" fill="#c04000"/>
<polygon class="c" points="363.5,486.5 369.5,486.5 371.5,488.5 371.5,494.5 369.5,496.5 363.5,496.5 361.5,494.5 361.5,488.5" fill="none" stroke="#c04000" stroke-width="1"/>
<path class="c" d="M366 485h1v1h-1zM366 497h1v1h-1zM360 491h1v1h-1zM372 491h1v1h-1z" fill="#c04000"/>
<polygon class="c" points="410.5,483.5 416.5,483.5 418.5,485.5 418.5,491.5 416.5,493.5 410.5,493.5 408.5,491.5 408.5,485.5" fill="none" stroke="#c04000" stroke-width="1"/>
<path class="c" d="M413 482h1v1h-1zM413 494h1v1h-1zM407 488h1v1h-1zM419 488h1v1h-1z" fill="#c04000"/>
<polygon class="c" points="417.5,486.5 423.5,486.5 425.5,488.5 425.5,494.5 423.5,496.5 417.5,496.5 415.5,494.5 415.5,488.5" fill="none" stroke="#c04000" stroke-width="1"/>
<path class="c" d="M420 485h1v1h-1zM420 497h1v1h-1zM414 491h1v1h-1zM426 491h1v1h-1z" fill="#c04000"/>
<polygon class="c" points="463.5,485.5 469.5,485.5 471.5,487.5 471.5,493.5 469.5,495.5 463.5,495.5 461.5,493.5 461.5,487.5" fill="none" stroke="#c04000" stroke-width="1"/>
<path class="c" d="M466 484h1v1h-1zM466 496h1v1h-1zM460 490h1v1h-1zM472 490h1v1h-1z" fill="#c04000"/>
<polygon class="c" points="470.5,485.5 476.5,485.5 478.5,487.5 478.5,493.5 476.5,495.5 470.5,495.5 468.5,493.5 468.5,487.5" fill="none" stroke="#c04000" stroke-width="1"/>
<path class="c" d="M473 484h1v1h-1zM473 496h1v1h-1zM467 490h1v1h-1zM479 490h1v1h-1z" fill="#c04000"/>
<polygon class="c" points="515.5,485.5 521.5,485.5 523.5,487.5 523.5,493.5 521.5,495.5 515.5,495.5 513.5,493.5 513.5,487.5" fill="none" stroke="#c04000" stroke-width="1"/>
<path class="c" d="M518 484h1v1h-1zM518 496h1v1h-1zM512 490h1v1h-1zM524 490h1v1h-1z" fill="#c04000"/>
<polygon class="c" points="522.5,485.5 528.5,485.5 530.5,487.5 530.5,493.5 528.5,495.5 522.5,495.5 520.5,493.5 520.5,487.5" fill="none" stroke="#c04000" stroke-width="1"/>
<path class="c" d="M525 484h1v1h-1zM525 496h1v1h-1zM519 490h1v1h-1zM531 490h1v1h-1z" fill="#c04000"/>
<polygon class="c" points="568.5,485.5 574.5,485.5 576.5,487.5 576.5,493.5 574.5,495.5 568.5,495.5 566.5,493.5 566.5,487.5" fill="none" stroke="#c04000" stroke-width="1"/>
<path class="c" d="M571 484h1v1h-1zM571 496h1v1h-1zM565 490h1v1h-1zM577 490h1v1h-1z" fill="#c04000"/>
<polygon class="c" points="575.5,485.5 581.5,485.5 583.5,487.5 583.5,493.5 581.5,495.5 575.5,495.5 573.5,493.5 573.5,487.5" fill="none" stroke="#c04000" stroke-width="1"/>
<path class="c" d="M578 484h1v1h-1zM578 496h1v1h-1zM572 490h1v1h-1zM584 490h1v1h-1z" fill="#c04000"/>
<polygon class="c" points="621.5,480.5 627.5,480.5 629.5,482.5 629.5,488.5 627.5,490.5 621.5,490.5 619.5,488.5 619.5,482.5" fill="none" stroke="#c04000" stroke-width="1"/>
<path class="c" d="M624 479h1v1h-1zM624 491h1v1h-1zM618 485h1v1h-1zM630 485h1v1h-1z" fill="#c04000"/>
<polygon class="c" points="627.5,474.5 633.5,474.5 635.5,476.5 635.5,482.5 633.5,484.5 627.5,484.5 625.5,482.5 625.5,476.5" fill="none" stroke="#c04000" stroke-width="1"/>
<path class="c" d="M630 473h1v1h-1zM630 485h1v1h-1zM624 479h1v1h-1zM636 479h1v1h-1z" fill="#c04000"/>
<polygon class="c" points="673.5,484.5 679.5,484.5 681.5,486.5 681.5,492.5 679.5,494.5 673.5,494.5 671.5,492.5 671.5,486.5" fill="none" stroke="#c04000" stroke-width="1"/>
<path class="c" d="M676 483h1v1h-1zM676 495h1v1h-1zM670 489h1v1h-1zM682 489h1v1h-1z" fill="#c04000"/>
<polygon class="c" points="680.5,481.5 686.5,481.5 688.5,483.5 688.5,489.5 686.5,491.5 680.5,491.5 678.5,489.5 678.5,483.5" fill="none" stroke="#c04000" stroke-width="1"/>
<path class="c" d="M683 480h1v1h-1zM683 492h1v1h-1zM677 486h1v1h-1zM689 486h1v1h-1z" fill="#c04000"/>
<polygon class="c" points="726.5,483.5 732.5,483.5 734.5,485.5 734.5,491.5 732.5,493.5 726.5,493.5 724.5,491.5 724.5,485.5" fill="none" stroke="#c04000" stroke-width="1"/>
<path class="c" d="M729 482h1v1h-1zM729 494h1v1h-1zM723 488h1v1h-1zM735 488h1v1h-1z" fill="#c04000"/>
<polygon class="c" points="732.5,482.5 738.5,482.5 740.5,484.5 740.5,490.5 738.5,492.5 732.5,492.5 730.5,490.5 730.5,484.5" fill="none" stroke="#c04000" stroke-width="1"/>
<path class="c" d="M735 481h1v1h-1zM735 493h1v1h-1zM729 487h1v1h-1zM741 487h1v1h-1z" fill="#c04000"/>
<polygon class="c" points="778.5,482.5 784.5,482.5 786.5,484.5 786.5,490.5 784.5,492.5 778.5,492.5 776.5,490.5 776.5,484.5" fill="none" stroke="#c04000" stroke-width="1"/>
<path class="c" d="M781 481h1v1h-1zM781 493h1v1h-1zM775 487h1v1h-1zM787 487h1v1h-1z" fill="#c04000"/>
<polygon class="c" points="786.5,484.5 792.5,484.5 794.5,486.5 794.5,492.5 792.5,494.5 786.5,494.5 784.5,492.5 784.5,486.5" fill="none" stroke="#c04000" stroke-width="1"/>
<path class="c" d="M789 483h1v1h-1zM789 495h1v1h-1zM783 489h1v1h-1zM795 489h1v1h-1z" fill="#c04000"/>
<polygon class="c" points="832.5,484.5 838.5,484.5 840.5,486.5 840.5,492.5 838.5,494.5 832.5,494.5 830.5,492.5 830.5,486.5" fill="none" stroke="#c04000" stroke-width="1"/>
<path class="c" d="M835 483h1v1h-1zM835 495h1v1h-1zM829 489h1v1h-1zM841 489h1v1h-1z" fill="#c04000"/>
<polygon class="c" points="838.5,482.5 844.5,482.5 846.5,484.5 846.5,490.5 844.5,492.5 838.5,492.5 836.5,490.5 836.5,484.5" fill="none" stroke="#c04000" stroke-width="1"/>
<path class="c" d="M841 481h1v1h-1zM841 493h1v1h-1zM835 487h1v1h-1zM847 487h1v1h-1z" fill="#c04000"/>
<polygon class="c" points="884.5,476.5 890.5,476.5 892.5,478.5 892.5,484.5 890.5,486.5 884.5,486.5 882.5,484.5 882.5,478.5" fill="none" stroke="#c04000" stroke-width="1"/>
<path class="c" d="M887 475h1v1h-1zM887 487h1v1h-1zM881 481h1v1h-1zM893 481h1v1h-1z" fill="#c04000"/>
<polygon class="c" points="890.5,482.5 896.5,482.5 898.5,484.5 898.5,490.5 896.5,492.5 890.5,492.5 888.5,490.5 888.5,484.5" fill="none" stroke="#c04000" stroke-width="1"/>
<path class="c" d="M893 481h1v1h-1zM893 493h1v1h-1zM887 487h1v1h-1zM899 487h1v1h-1z" fill="#c04000"/>
<polygon class="c" points="937.5,482.5 943.5,482.5 945.5,484.5 945.5,490.5 943.5,492.5 937.5,492.5 935.5,490.5 935.5,484.5" fill="none" stroke="#c04000" stroke-width="1"/>
<path class="c" d="M940 481h1v1h-1zM940 493h1v1h-1zM934 487h1v1h-1zM946 487h1v1h-1z" fill="#c04000"/>
<polygon class="c" points="943.5,484.5 949.5,484.5 951.5,486.5 951.5,492.5 949.5,494.5 943.5,494.5 941.5,492.5 941.5,486.5" fill="none" stroke="#c04000" stroke-width="1"/>
<path class="c" d="M946 483h1v1h-1zM946 495h1v1h-1zM940 489h1v1h-1zM952 489h1v1h-1z" fill="#c04000"/>
<polygon class="c" points="990.5,483.5 996.5,483.5 998.5,485.5 998.5,491.5 996.5,493.5 990.5,493.5 988.5,491.5 988.5,485.5" fill="none" stroke="#c04000" stroke-width="1"/>
<path class="c" d="M993 482h1v1h-1zM993 494h1v1h-1zM987 488h1v1h-1zM999 488h1v1h-1z" fill="#c04000"/>
<polygon class="c" points="996.5,478.5 1002.5,478.5 1004.5,480.5 1004.5,486.5 1002.5,488.5 996.5,488.5 994.5,486.5 994.5,480.5" fill="none" stroke="#c04000" stroke-width="1"/>
<path class="c" d="M999 477h1v1h-1zM999 489h1v1h-1zM993 483h1v1h-1zM1005 483h1v1h-1z" fill="#c04000"/>
<polygon class="c" points="1043.5,484.5 1049.5,484.5 1051.5,486.5 1051.5,492.5 1049.5,494.5 1043.5,494.5 1041.5,492.5 1041.5,486.5" fill="none" stroke="#c04000" stroke-width="1"/>
<path class="c" d="M1046 483h1v1h-1zM1046 495h1v1h-1zM1040 489h1v1h-1zM1052 489h1v1h-1z" fill="#c04000"/>
<polygon class="c" points="1049.5,484.5 1055.5,484.5 1057.5,486.5 1057.5,492.5 1055.5,494.5 1049.5,494.5 1047.5,492.5 1047.5,486.5" fill="none" stroke="#c04000" stroke-width="1"/>
<path class="c" d="M1052 483h1v1h-1zM1052 495h1v1h-1zM1046 489h1v1h-1zM1058 489h1v1h-1z" fill="#c04000"/>
<polygon class="c" points="1095.5,484.5 1101.5,484.5 1103.5,486.5 1103.5,492.5 1101.5,494.5 1095.5,494.5 1093.5,492.5 1093.5,486.5" fill="none" stroke="#c04000" stroke-width="1"/>
<path class="c" d="M1098 483h1v1h-1zM1098 495h1v1h-1zM1092 489h1v1h-1zM1104 489h1v1h-1z" fill="#c04000"/>
<polygon class="c" points="1101.5,483.5 1107.5,483.5 1109.5,485.5 1109.5,491.5 1107.5,493.5 1101.5,493.5 1099.5,491.5 1099.5,485.5" fill="none" stroke="#c04000" stroke-width="1"/>
<path class="c" d="M1104 482h1v1h-1zM1104 494h1v1h-1zM1098 488h1v1h-1zM1110 488h1v1h-1z" fill="#c04000"/>
<polygon class="c" points="1148.5,474.5 1154.5,474.5 1156.5,476.5 1156.5,482.5 1154.5,484.5 1148.5,484.5 1146.5,482.5 1146.5,476.5" fill="none" stroke="#c04000" stroke-width="1"/>
<path class="c" d="M1151 473h1v1h-1zM1151 485h1v1h-1zM1145 479h1v1h-1zM1157 479h1v1h-1z" fill="#c04000"/>
<polygon class="c" points="1154.5,483.5 1160.5,483.5 1162.5,485.5 1162.5,491.5 1160.5,493.5 1154.5,493.5 1152.5,491.5 1152.5,485.5" fill="none" stroke="#c04000" stroke-width="1"/>
<path class="c" d="M1157 482h1v1h-1zM1157 494h1v1h-1zM1151 488h1v1h-1zM1163 488h1v1h-1z" fill="#c04000"/>
<polygon class="c" points="1200.5,483.5 1206.5,483.5 1208.5,485.5 1208.5,491.5 1206.5,493.5 1200.5,493.5 1198.5,491.5 1198.5,485.5" fill="none" stroke="#c04000" stroke-width="1"/>
<path class="c" d="M1203 482h1v1h-1zM1203 494h1v1h-1zM1197 488h1v1h-1zM1209 488h1v1h-1z" fill="#c04000"/>
<polygon class="c" points="1207.5,463.5 1213.5,463.5 1215.5,465.5 1215.5,471.5 1213.5,473.5 1207.5,473.5 1205.5,471.5 1205.5,465.5" fill="none" stroke="#c04000" stroke-width="1"/>
<path class="c" d="M1210 462h1v1h-1zM1210 474h1v1h-1zM1204 468h1v1h-1zM1216 468h1v1h-1z" fill="#c04000"/>
<polygon class="c" points="1253.5,483.5 1259.5,483.5 1261.5,485.5 1261.5,491.5 1259.5,493.5 1253.5,493.5 1251.5,491.5 1251.5,485.5" fill="none" stroke="#c04000" stroke-width="1"/>
<path class="c" d="M1256 482h1v1h-1zM1256 494h1v1h-1zM1250 488h1v1h-1zM1262 488h1v1h-1z" fill="#c04000"/>
<polygon class="c" points="1259.5,484.5 1265.5,484.5 1267.5,486.5 1267.5,492.5 1265.5,494.5 1259.5,494.5 1257.5,492.5 1257.5,486.5" fill="none" stroke="#c04000" stroke-width="1"/>
<path class="c" d="M1262 483h1v1h-1zM1262 495h1v1h-1zM1256 489h1v1h-1zM1268 489h1v1h-1z" fill="#c04000"/>
<polygon class="c" points="1306.5,483.5 1312.5,483.5 1314.5,485.5 1314.5,491.5 1312.5,493.5 1306.5,493.5 1304.5,491.5 1304.5,485.5" fill="none" stroke="#c04000" stroke-width="1"/>
<path class="c" d="M1309 482h1v1h-1zM1309 494h1v1h-1zM1303 488h1v1h-1zM1315 488h1v1h-1z" fill="#c04000"/>
<polygon class="c" points="1312.5,479.5 1318.5,479.5 1320.5,481.5 1320.5,487.5 1318.5,489.5 1312.5,489.5 1310.5,487.5 1310.5,481.5" fill="none" stroke="#c04000" stroke-width="1"/>
<path class="c" d="M1315 478h1v1h-1zM1315 490h1v1h-1zM1309 484h1v1h-1zM1321 484h1v1h-1z" fill="#c04000"/>
<polygon class="c" points="1359.5,484.5 1365.5,484.5 1367.5,486.5 1367.5,492.5 1365.5,494.5 1359.5,494.5 1357.5,492.5 1357.5,486.5" fill="none" stroke="#c04000" stroke-width="1"/>
<path class="c" d="M1362 483h1v1h-1zM1362 495h1v1h-1zM1356 489h1v1h-1zM1368 489h1v1h-1z" fill="#c04000"/>
<polygon class="c" points="100.5,525.5 106.5,525.5 108.5,527.5 108.5,533.5 106.5,535.5 100.5,535.5 98.5,533.5 98.5,527.5" fill="#c8c800" stroke="#c8c800" stroke-width="1"/>
<path class="c" d="M103 524h1v13h-1z" fill="#c8c800"/>
<polygon class="c" points="146.5,525.5 152.5,525.5 154.5,527.5 154.5,533.5 152.5,535.5 146.5,535.5 144.5,533.5 144.5,527.5" fill="#c8c800" stroke="#c8c800" stroke-width="1"/>
<path class="c" d="M149 524h1v13h-1z" fill="#c8c800"/>
<polygon class="c" points="205.5,525.5 211.5,525.5 213.5,527.5 213.5,533.5 211.5,535.5 205.5,535.5 203.5,533.5 203.5,527.5" fill="#c8c800" stroke="#c8c800" stroke-width="1"/>
<path class="c" d="M208 524h1v13h-1z" fill="#c8c800"/>
<polygon class="c" points="252.5,525.5 258.5,525.5 260.5,527.5 260.5,533.5 258.5,535.5 252.5,535.5 250.5,533.5 250.5,527.5" fill="#c8c800" stroke="#c8c800" stroke-width="1"/>
<path class="c" d="M255 524h1v13h-1z" fill="#c8c800"/>
<polygon class="c" points="259.5,525.5 265.5,525.5 267.5,527.5 267.5,533.5 265.5,535.5 259.5,535.5 257.5,533.5 257.5,527.5" fill="#c8c800" stroke="#c8c800" stroke-width="1"/>
<path class="c" d="M262 524h1v13h-1z" fill="#c8c800"/>
<polygon class="c" points="304.5,525.5 310.5,525.5 312.5,527.5 312.5,533.5 310.5,535.5 304.5,535.5 302.5,533.5 302.5,527.5" fill="#c8c800" stroke="#c8c800" stroke-width="1"/>
<path class="c" d="M307 524h1v13h-1z" fill="#c8c800"/>
<polygon class="c" points="312.5,525.5 318.5,525.5 320.5,527.5 320.5,533.5 318.5,535.5 312.5,535.5 310.5,533.5 310.5,527.5" fill="#c8c800" stroke="#c8c800" stroke-width="1"/>
<path class="c" d="M315 524h1v13h-1z" fill="#c8c800"/>
<polygon class="c" points="357.5,525.5 363.5,525.5 365.5,527.5 365.5,533.5 363.5,535.5 357.5,535.5 355.5,533.5 355.5,527.5" fill="#c8c800" stroke="#c8c800" stroke-width="1"/>
<path class="c" d="M360 524h1v13h-1z" fill="#c8c800"/>
<polygon class="c" points="363.5,525.5 369.5,525.5 371.5,527.5 371.5,533.5 369.5,535.5 363.5,535.5 361.5,533.5 361.5,527.5" fill="#c8c800" stroke="#c8c800" stroke-width="1"/>
<path class="c" d="M366 524h1v13h-1z" fill="#c8c800"/>
<polygon class="c" points="410.5,525.5 416.5,525.5 418.5,527.5 418.5,533.5 416.5,535.5 410.5,535.5 408.5,533.5 408.5,527.5" fill="#c8c800" stroke="#c8c800" stroke-width="1"/>
<path class="c" d="M413 524h1v13h-1z" fill="#c8c800"/>
<polygon class="c" points="417.5,525.5 423.5,525.5 425.5,527.5 425.5,533.5 423.5,535.5 417.5,535.5 415.5,533.5 415.5,527.5" fill="#c8c800" stroke="#c8c800" stroke-width="1"/>
<path class="c" d="M420 524h1v13h-1z" fill="#c8c800"/>
<polygon class="c" points="463.5,525.5 469.5,525.5 471.5,527.5 471.5,533.5 469.5,535.5 463.5,535.5 461.5,533.5 461.5,527.5" fill="#c8c800" stroke="#c8c800" stroke-width="1"/>
<path class="c" d="M466 524h1v13h-1z" fill="#c8c800"/>
<polygon class="c" points="470.5,525.5 476.5,525.5 478.5,527.5 478.5,533.5 476.5,535.5 470.5,535.5 468.5,533.5 468.5,527.5" fill="#c8c800" stroke="#c8c800" stroke-width="1"/>
<path class="c" d="M473 524h1v13h-1z" fill="#c8c800"/>
<polygon class="c" points="515.5,525.5 521.5,525.5 523.5,527.5 523.5,533.5 521.5,535.5 515.5,535.5 513.5,533.5 513.5,527.5" fill="#c8c800" stroke="#c8c800" stroke-width="1"/>
<path class="c" d="M518 524h1v13h-1z" fill="#c8c800"/>
<polygon class="c" points="522.5,525.5 528.5,525.5 530.5,527.5 530.5,533.5 528.5,535.5 522.5,535.5 520.5,533.5 520.5,527.5" fill="#c8c800" stroke="#c8c800" stroke-width="1"/>
<path class="c" d="M525 524h1v13h-1z" fill="#c8c800"/>
<polygon class="c" points="568.5,525.5 574.5,525.5 576.5,527.5 576.5,533.5 574.5,535.5 568.5,535.5 566.5,533.5 566.5,527.5" fill="#c8c800" stroke="#c8c800" stroke-width="1"/>
<path class="c" d="M571 524h1v13h-1z" fill="#c8c800"/>
<polygon class="c" points="575.5,522.5 581.5,522.5 583.5,524.5 583.5,530.5 581.5,532.5 575.5,532.5 573.5,530.5 573.5,524.5" fill="#c8c800" stroke="#c8c800" stroke-width="1"/>
<path class="c" d="M578 521h1v13h-1z" fill="#c8c800"/>
<polygon class="c" points="621.5,525.5 627.5,525.5 629.5,527.5 629.5,533.5 627.5,535.5 621.5,535.5 619.5,533.5 619.5,527.5" fill="#c8c800" stroke="#c8c800" stroke-width="1"/>
<path class="c" d="M624 524h1v13h-1z" fill="#c8c800"/>
<polygon class="c" points="627.5,525.5 633.5,525.5 635.5,527.5 635.5,533.5 633.5,535.5 627.5,535.5 625.5,533.5 625.5,527.5" fill="#c8c800" stroke="#c8c800" stroke-width="1"/>
<path class="c" d="M630 524h1v13h-1z" fill="#c8c800"/>
<polygon class="c" points="673.5,525.5 679.5,525.5 681.5,527.5 681.5,533.5 679.5,535.5 673.5,535.5 671.5,533.5 671.5,527.5" fill="#c8c800" stroke="#c8c800" stroke-width="1"/>
<path class="c" d="M676 524h1v13h-1z" fill="#c8c800"/>
<polygon class="c" points="680.5,525.5 686.5,525.5 688.5,527.5 688.5,533.5 686.5,535.5 680.5,535.5 678.5,533.5 678.5,527.5" fill="#c8c800" stroke="#c8c800" stroke-width="1"/>
<path class="c" d="M683 524h1v13h-1z" fill="#c8c800"/>
<polygon class="c" points="726.5,525.5 732.5,525.5 734.5,527.5 734.5,533.5 732.5,535.5 726.5,535.5 724.5,533.5 724.5,527.5" fill="#c8c800" stroke="#c8c800" stroke-width="1"/>
<path class="c" d="M729 524h1v13h-1z" fill="#c8c800"/>
<polygon class="c" points="732.5,525.5 738.5,525.5 740.5,527.5 740.5,533.5 738.5,535.5 732.5,535.5 730.5,533.5 730.5,527.5" fill="#c8c800" stroke="#c8c800" stroke-width="1"/>
<path class="c" d="M735 524h1v13h-1z" fill="#c8c800"/>
<polygon class="c" points="778.5,525.5 784.5,525.5 786.5,527.5 786.5,533.5 784.5,535.5 778.5,535.5 776.5,533.5 776.5,527.5" fill="#c8c800" stroke="#c8c800" stroke-width="1"/>
<path class="c" d="M781 524h1v13h-1z" fill="#c8c800"/>
<polygon class="c" points="786.5,525.5 792.5,525.5 794.5,527.5 794.5,533.5 792.5,535.5 786.5,535.5 784.5,533.5 784.5,527.5" fill="#c8c800" stroke="#c8c800" stroke-width="1"/>
<path class="c" d="M789 524h1v13h-1z" fill="#c8c800"/>
<polygon class="c" points="832.5,525.5 838.5,525.5 840.5,527.5 840.5,533.5 838.5,535.5 832.5,535.5 830.5,533.5 830.5,527.5" fill="#c8c800" stroke="#c8c800" stroke-width="1"/>
<path class="c" d="M835 524h1v13h-1z" fill="#c8c800"/>
<polygon class="c" points="838.5,525.5 844.5,525.5 846.5,527.5 846.5,533.5 844.5,535.5 838.5,535.5 836.5,533.5 836.5,527.5" fill="#c8c800" stroke="#c8c800" stroke-width="1"/>
<path class="c" d="M841 524h1v13h-1z" fill="#c8c800"/>
<polygon class="c" points="884.5,525.5 890.5,525.5 892.5,527.5 892.5,533.5 890.5,535.5 884.5,535.5 882.5,533.5 882.5,527.5" fill="#c8c800" stroke="#c8c800" stroke-width="1"/>
<path class="c" d="M887 524h1v13h-1z" fill="#c8c800"/>
<polygon class="c" points="890.5,525.5 896.5,525.5 898.5,527.5 898.5,533.5 896.5,535.5 890.5,535.5 888.5,533.5 888.5,527.5" fill="#c8c800" stroke="#c8c800" stroke-width="1"/>
<path class="c" d="M893 524h1v13h-1z" fill="#c8c800"/>
<polygon class="c" points="937.5,525.5 943.5,525.5 945.5,527.5 945.5,533.5 943.5,535.5 937.5,535.5 935.5,533.5 935.5,527.5" fill="#c8c800" stroke="#c8c800" stroke-width="1"/>
<path class="c" d="M940 524h1v13h-1z" fill="#c8c800"/>
<polygon class="c" points="943.5,525.5 949.5,525.5 951.5,527.5 951.5,533.5 949.5,535.5 943.5,535.5 941.5,533.5 941.5,527.5" fill="#c8c800" stroke="#c8c800" stroke-width="1"/>
<path class="c" d="M946 524h1v13h-1z" fill="#c8c800"/>
<polygon class="c" points="990.5,525.5 996.5,525.5 998.5,527.5 998.5,533.5 996.5,535.5 990.5,535.5 988.5,533.5 988.5,527.5" fill="#c8c800" stroke="#c8c800" stroke-width="1"/>
<path class="c" d="M993 524h1v13h-1z" fill="#c8c800"/>
<polygon class="c" points="996.5,525.5 1002.5,525.5 1004.5,527.5 1004.5,533.5 1002.5,535.5 996.5,535.5 994.5,533.5 994.5,527.5" fill="#c8c800" stroke="#c8c800" stroke-width="1"/>
<path class="c" d="M999 524h1v13h-1z" fill="#c8c800"/>
<polygon class="c" points="1043.5,525.5 1049.5,525.5 1051.5,527.5 1051.5,533.5 1049.5,535.5 1043.5,535.5 1041.5,533.5 1041.5,527.5" fill="#c8c800" stroke="#c8c800" stroke-width="1"/>
<path class="c" d="M1046 524h1v13h-1z" fill="#c8c800"/>
<polygon class="c" points="1049.5,525.5 1055.5,525.5 1057.5,527.5 1057.5,533.5 1055.5,535.5 1049.5,535.5 1047.5,533.5 1047.5,527.5" fill="#c8c800" stroke="#c8c800" stroke-width="1"/>
<path class="c" d="M1052 524h1v13h-1z" fill="#c8c800"/>
<polygon class="c" points="1095.5,525.5 1101.5,525.5 1103.5,527.5 1103.5,533.5 1101.5,535.5 1095.5,535.5 1093.5,533.5 1093.5,527.5" fill="#c8c800" stroke="#c8c800" stroke-width="1"/>
<path class="c" d="M1098 524h1v13h-1z" fill="#c8c800"/>
<polygon class="c" points="1101.5,525.5 1107.5,525.5 1109.5,527.5 1109.5,533.5 1107.5,535.5 1101.5,535.5 1099.5,533.5 1099.5,527.5" fill="#c8c800" stroke="#c8c800" stroke-width="1"/>
<path class="c" d="M1104 524h1v13h-1z" fill="#c8c800"/>
<polygon class="c" points="1148.5,525.5 1154.5,525.5 1156.5,527.5 1156.5,533.5 1154.5,535.5 1148.5,535.5 1146.5,533.5 1146.5,527.5" fill="#c8c800" stroke="#c8c800" stroke-width="1"/>
<path class="c" d="M1151 524h1v13h-1z" fill="#c8c800"/>
<polygon class="c" points="1154.5,523.5 1160.5,523.5 1162.5,525.5 1162.5,531.5 1160.5,533.5 1154.5,533.5 1152.5,531.5 1152.5,525.5" fill="#c8c800" stroke="#c8c800" stroke-width="1"/>
<path class="c" d="M1157 522h1v13h-1z" fill="#c8c800"/>
<polygon class="c" points="1200.5,525.5 1206.5,525.5 1208.5,527.5 1208.5,533.5 1206.5,535.5 1200.5,535.5 1198.5,533.5 1198.5,527.5" fill="#c8c800" stroke="#c8c800" stroke-width="1"/>
<path class="c" d="M1203 524h1v13h-1z" fill="#c8c800"/>
<polygon class="c" points="1207.5,519.5 1213.5,519.5 1215.5,521.5 1215.5,527.5 1213.5,529.5 1207.5,529.5 1205.5,527.5 1205.5,521.5" fill="#c8c800" stroke="#c8c800" stroke-width="1"/>
<path class="c" d="M1210 518h1v13h-1z" fill="#c8c800"/>
<polygon class="c" points="1253.5,525.5 1259.5,525.5 1261.5,527.5 1261.5,533.5 1259.5,535.5 1253.5,535.5 1251.5,533.5 1251.5,527.5" fill="#c8c800" stroke="#c8c800" stroke-width="1"/>
<path class="c" d="M1256 524h1v13h-1z" fill="#c8c800"/>
<polygon class="c" points="1259.5,525.5 1265.5,525.5 1267.5,527.5 1267.5,533.5 1265.5,535.5 1259.5,535.5 1257.5,533.5 1257.5,527.5" fill="#c8c800" stroke="#c8c800" stroke-width="1"/>
<path class="c" d="M1262 524h1v13h-1z" fill="#c8c800"/>
<polygon class="c" points="1306.5,525.5 1312.5,525.5 1314.5,527.5 1314.5,533.5 1312.5,535.5 1306.5,535.5 1304.5,533.5 1304.5,527.5" fill="#c8c800" stroke="#c8c800" stroke-width="1"/>
<path class="c" d="M1309 524h1v13h-1z" fill="#c8c800"/>
<polygon class="c" points="1312.5,524.5 1318.5,524.5 1320.5,526.5 1320.5,532.5 1318.5,534.5 1312.5,534.5 1310.5,532.5 1310.5,526.5" fill="#c8c800" stroke="#c8c800" stroke-width="1"/>
<path class="c" d="M1315 523h1v13h-1z" fill="#c8c800"/>
<polygon class="c" points="1359.5,525.5 1365.5,525.5 1367.5,527.5 1367.5,533.5 1365.5,535.5 1359.5,535.5 1357.5,533.5 1357.5,527.5" fill="#c8c800" stroke="#c8c800" stroke-width="1"/>
<path class="c" d="M1362 524h1v13h-1z" fill="#c8c800"/>
<polygon class="c" points="93,350 162,350 154.6,363 101,363" fill="#306080"/>
<polygon class="c" points="199,350 1374.4,350 1366.4,363 207,363" fill="#306080"/>
<rect class="c" x="123" y="362" width="1" height="1" fill="#fff"/>
<rect class="c" x="260" y="362" width="1" height="1" fill="#fff"/>
<rect class="c" x="324" y="362" width="1" height="1" fill="#fff"/>
<rect class="c" x="398" y="362" width="1" height="1" fill="#fff"/>
<rect class="c" x="470" y="362" width="1" height="1" fill="#fff"/>
<rect class="c" x="545" y="362" width="1" height="1" fill="#fff"/>
<rect class="c" x="610" y="362" width="1" height="1" fill="#fff"/>
<rect class="c" x="690" y="362" width="1" height="1" fill="#fff"/>
<rect class="c" x="760" y="362" width="1" height="1" fill="#fff"/>
<rect class="c" x="830" y="362" width="1" height="1" fill="#fff"/>
<rect class="c" x="905" y="362" width="1" height="1" fill="#fff"/>
<rect class="c" x="975" y="362" width="1" height="1" fill="#fff"/>
<rect class="c" x="1045" y="362" width="1" height="1" fill="#fff"/>
<rect class="c" x="1120" y="362" width="1" height="1" fill="#fff"/>
<rect class="c" x="1190" y="362" width="1" height="1" fill="#fff"/>
<rect class="c" x="1259" y="362" width="1" height="1" fill="#fff"/>
<rect class="c" x="1323" y="362" width="1" height="1" fill="#fff"/>
<rect class="c" x="101" y="57" width="1266" height="1" fill="#000"/>
<rect class="c" x="101" y="539" width="1266" height="1" fill="#000"/>
<rect class="c" x="101" y="57" width="1" height="483" fill="#000"/>
<rect class="c" x="1366" y="57" width="1" height="483" fill="#000"/>
<text x="87" y="542.6" text-anchor="end" xml:space="preserve">0</text>
<text x="86" y="424.6" text-anchor="end" xml:space="preserve">500</text>
<text x="86" y="307.6" text-anchor="end" xml:space="preserve">1000</text>
<text x="86" y="189.6" text-anchor="end" xml:space="preserve">1500</text>
<text x="86" y="72.6" text-anchor="end" xml:space="preserve">2000</text>
<text x="100.0" y="561.5" text-anchor="middle" xml:space="preserve">00:00</text>
<text x="205.4" y="561.5" text-anchor="middle" xml:space="preserve">02:00</text>
<text x="310.8" y="561.5" text-anchor="middle" xml:space="preserve">04:00</text>
<text x="416.2" y="561.5" text-anchor="middle" xml:space="preserve">06:00</text>
<text x="521.7" y="561.5" text-anchor="middle" xml:space="preserve">08:00</text>
<text x="627.1" y="561.5" text-anchor="middle" xml:space="preserve">10:00</text>
<text x="732.5" y="561.5" text-anchor="middle" xml:space="preserve">12:00</text>
<text x="837.9" y="561.5" text-anchor="middle" xml:space="preserve">14:00</text>
<text x="943.3" y="561.5" text-anchor="middle" xml:space="preserve">16:00</text>
<text x="1048.8" y="561.5" text-anchor="middle" xml:space="preserve">18:00</text>
<text x="1154.2" y="561.5" text-anchor="middle" xml:space="preserve">20:00</text>
<text x="1259.6" y="561.5" text-anchor="middle" xml:space="preserve">22:00</text>
<text x="1365.0" y="561.5" text-anchor="middle" xml:space="preserve">00:00</text>
<text x="444.40" y="31" style="letter-spacing:0.0537px" xml:space="preserve">pi7 Dec 31  near/far ICMP/TCP ping and curl times [No msmt 1AM-2AM]</text>
<text x="326.60" y="589.5" style="letter-spacing:0.0640px" xml:space="preserve">&lt;-START at 2AM Yday, right to 12AM Tday-&gt;, then wrap left to 1AM Tday&lt;- [ignore connecting lines]</text>
<text transform="translate(17,298) rotate(-90)" text-anchor="middle">msec</text>
<text x="1063.30" y="76.4" style="letter-spacing:0.0377px" xml:space="preserve">"Ypingresult.txt" using 1:2</text>
<rect class="c" x="1288" y="72" width="57" height="1" fill="#ff0000"/>
<text x="1044.00" y="95.4" style="letter-spacing:0.0431px" xml:space="preserve">"YTimetcpping.txt" using 1:2</text>
<rect class="c" x="1288" y="91" width="57" height="1" fill="#00c000"/>
<text x="995.80" y="114.4" style="letter-spacing:0.0409px" xml:space="preserve">"YCustPingSiteTimes.txt" using 1:2</text>
<rect class="c" x="1288" y="110" width="57" height="1" fill="#0080ff"/>
<text x="1049.40" y="133.4" style="letter-spacing:0.0765px" xml:space="preserve">"Yofflineresult.txt" using 1:2</text>
<rect class="c" x="1310.5" y="123.5" width="12" height="12" fill="none" stroke="#c000ff" stroke-width="1"/>
<text x="1037.60" y="152.4" style="letter-spacing:0.0585px" xml:space="preserve">"Ytcpoff_record.txt" using 1:2</text>
<rect class="c" x="1310" y="142" width="13" height="13" fill="#00eeee"/>
<text x="1077.90" y="171.4" style="letter-spacing:0.0182px" xml:space="preserve">"Ycurltime.txt" using 1:2</text>
<polygon class="c" points="1313.5,162.5 1319.5,162.5 1321.5,164.5 1321.5,170.5 1319.5,172.5 1313.5,172.5 1311.5,170.5 1311.5,164.5" fill="none" stroke="#c04000" stroke-width="1"/>
<path class="c" d="M1316 161h1v1h-1zM1316 173h1v1h-1zM1310 167h1v1h-1zM1322 167h1v1h-1z" fill="#c04000"/>
<text x="1048.90" y="190.4" style="letter-spacing:0.0297px" xml:space="preserve">"Ycurldnstime.txt" using 1:2</text>
<polygon class="c" points="1313.5,181.5 1319.5,181.5 1321.5,183.5 1321.5,189.5 1319.5,191.5 1313.5,191.5 1311.5,189.5 1311.5,183.5" fill="#c8c800" stroke="#c8c800" stroke-width="1"/>
<path class="c" d="M1316 180h1v13h-1z" fill="#c8c800"/>
<text x="1009.10" y="209.4" style="letter-spacing:0.0290px" xml:space="preserve">"YCustPingTimeout.txt" using 1:2</text>
<polygon class="c" points="1316.5,197.5 1308.5,209.5 1324.5,209.5" fill="none" stroke="#4169e1" stroke-width="1"/>
<text x="1027.50" y="228.4" style="letter-spacing:0.0578px" xml:space="preserve">"Ypingtargetchange" using 1:2</text>
<polygon class="c" points="1316.5,216.5 1308.5,228.5 1324.5,228.5" fill="#ffc020" stroke="#ffc020" stroke-width="1"/>
<text x="1040.80" y="247.4" style="letter-spacing:0.0643px" xml:space="preserve">"YHPpingresult.txt" using 1:2</text>
<path class="c" d="M1310 243h13v1h-13zM1316 237h1v13h-1z" fill="#008040"/>
<text x="1022.60" y="266.4" style="letter-spacing:0.0558px" xml:space="preserve">"YpingtargetISrouter" using 1:2</text>
<polygon class="c" points="1316.5,270.5 1308.5,258.5 1324.5,258.5" fill="none" stroke="#c080ff" stroke-width="1"/>
<text x="1116.90" y="285.4" style="letter-spacing:0.0260px" xml:space="preserve">"Ynoipv6" using 1:2</text>
<polygon class="c" points="1316.5,289.5 1308.5,277.5 1324.5,277.5" fill="none" stroke="#306080" stroke-width="1"/>
</g></svg></body></html>
